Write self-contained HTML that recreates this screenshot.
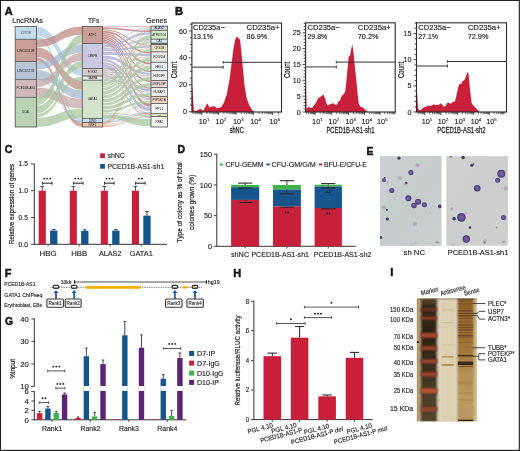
<!DOCTYPE html>
<html><head><meta charset="utf-8"><style>
html,body{margin:0;padding:0;background:#fff;}
svg{display:block;will-change:transform;font-family:"Liberation Sans",sans-serif;}
text{fill:#222;}
</style></head><body>
<svg xmlns="http://www.w3.org/2000/svg" width="520" height="451" viewBox="0 0 520 451">
<rect x="0" y="0" width="520" height="451" fill="#fff"/>
<text x="4.7" y="14.5" font-size="11" stroke="#000" stroke-width="0.45" font-weight="bold" fill="#000">A</text>
<text x="12.2" y="22.8" font-size="8.1" stroke="#2a2a2a" stroke-width="0.14" fill="#2a2a2a" textLength="30.8" lengthAdjust="spacingAndGlyphs">LncRNAs</text>
<text x="88" y="22.8" font-size="8.1" stroke="#2a2a2a" stroke-width="0.14" fill="#2a2a2a" textLength="11.2" lengthAdjust="spacingAndGlyphs">TFs</text>
<text x="145.9" y="22.8" font-size="8.1" stroke="#2a2a2a" stroke-width="0.14" fill="#2a2a2a" textLength="21.3" lengthAdjust="spacingAndGlyphs">Genes</text>
<path d="M36.5 26.5 C59.4 26.5 59.4 69 82.3 69 L82.3 75.9 C59.4 75.9 59.4 35.6 36.5 35.6Z" fill="#a9cde2" fill-opacity="0.72"/>
<path d="M36.5 36 C59.4 36 59.4 118.8 82.3 118.8 L82.3 122.3 C59.4 122.3 59.4 39.2 36.5 39.2Z" fill="#a9cde2" fill-opacity="0.72"/>
<path d="M36.5 39.6 C59.4 39.6 59.4 26.5 82.3 26.5 L82.3 34.7 C59.4 34.7 59.4 47 36.5 47Z" fill="#bd8580" fill-opacity="0.72"/>
<path d="M36.5 47.5 C59.4 47.5 59.4 80.5 82.3 80.5 L82.3 89.8 C59.4 89.8 59.4 57.2 36.5 57.2Z" fill="#bd8580" fill-opacity="0.72"/>
<path d="M36.5 57.6 C59.4 57.6 59.4 122.7 82.3 122.7 L82.3 126.8 C59.4 126.8 59.4 61.3 36.5 61.3Z" fill="#bd8580" fill-opacity="0.72"/>
<path d="M36.5 61.7 C59.4 61.7 59.4 44.2 82.3 44.2 L82.3 52.7 C59.4 52.7 59.4 69.5 36.5 69.5Z" fill="#a4b6cb" fill-opacity="0.72"/>
<path d="M36.5 69.9 C59.4 69.9 59.4 89.9 82.3 89.9 L82.3 98.5 C59.4 98.5 59.4 79.2 36.5 79.2Z" fill="#a4b6cb" fill-opacity="0.72"/>
<path d="M36.5 79.6 C59.4 79.6 59.4 52.9 82.3 52.9 L82.3 61 C59.4 61 59.4 87 36.5 87Z" fill="#c2a5a4" fill-opacity="0.72"/>
<path d="M36.5 87.4 C59.4 87.4 59.4 98.6 82.3 98.6 L82.3 108.6 C59.4 108.6 59.4 97.1 36.5 97.1Z" fill="#c2a5a4" fill-opacity="0.72"/>
<path d="M36.5 97.5 C59.4 97.5 59.4 34.8 82.3 34.8 L82.3 43.3 C59.4 43.3 59.4 105.3 36.5 105.3Z" fill="#a5c59b" fill-opacity="0.72"/>
<path d="M36.5 105.6 C59.4 105.6 59.4 61.2 82.3 61.2 L82.3 68.3 C59.4 68.3 59.4 113.6 36.5 113.6Z" fill="#a5c59b" fill-opacity="0.72"/>
<path d="M36.5 113.9 C59.4 113.9 59.4 76.6 82.3 76.6 L82.3 80.1 C59.4 80.1 59.4 117.4 36.5 117.4Z" fill="#a5c59b" fill-opacity="0.72"/>
<path d="M36.5 117.7 C59.4 117.7 59.4 108.7 82.3 108.7 L82.3 118 C59.4 118 59.4 126.8 36.5 126.8Z" fill="#a5c59b" fill-opacity="0.72"/>
<path d="M36.5 78.6 C59.4 78.6 59.4 121.6 82.3 121.6 L82.3 122.3 C59.4 122.3 59.4 79.2 36.5 79.2Z" fill="#8aa0b8" fill-opacity="0.8"/>
<path d="M102.6 26.47 C126.8 26.47 126.8 26.16 151 26.16 L151 26.79 C126.8 26.79 126.8 27.18 102.6 27.18Z" fill="#bb7672" fill-opacity="0.8"/>
<path d="M102.6 27.39 C126.8 27.39 126.8 30.44 151 30.44 L151 31.95 C126.8 31.95 126.8 28.89 102.6 28.89Z" fill="#bb7672" fill-opacity="0.8"/>
<path d="M102.6 29.15 C126.8 29.15 126.8 44.71 151 44.71 L151 45.83 C126.8 45.83 126.8 30.37 102.6 30.37Z" fill="#bb7672" fill-opacity="0.8"/>
<path d="M102.6 30.65 C126.8 30.65 126.8 51.95 151 51.95 L151 53.51 C126.8 53.51 126.8 32.43 102.6 32.43Z" fill="#bb7672" fill-opacity="0.8"/>
<path d="M102.6 32.73 C126.8 32.73 126.8 62.47 151 62.47 L151 64.25 C126.8 64.25 126.8 34.13 102.6 34.13Z" fill="#bb7672" fill-opacity="0.8"/>
<path d="M102.6 34.43 C126.8 34.43 126.8 70.75 151 70.75 L151 72.29 C126.8 72.29 126.8 36.1 102.6 36.1Z" fill="#bb7672" fill-opacity="0.8"/>
<path d="M102.6 36.37 C126.8 36.37 126.8 80.66 151 80.66 L151 82.35 C126.8 82.35 126.8 37.55 102.6 37.55Z" fill="#bb7672" fill-opacity="0.8"/>
<path d="M102.6 37.81 C126.8 37.81 126.8 87.63 151 87.63 L151 89.04 C126.8 89.04 126.8 39.33 102.6 39.33Z" fill="#bb7672" fill-opacity="0.8"/>
<path d="M102.6 39.59 C126.8 39.59 126.8 96.6 151 96.6 L151 97.59 C126.8 97.59 126.8 40.77 102.6 40.77Z" fill="#bb7672" fill-opacity="0.8"/>
<path d="M102.6 41.05 C126.8 41.05 126.8 103.77 151 103.77 L151 106.63 C126.8 106.63 126.8 42.75 102.6 42.75Z" fill="#bb7672" fill-opacity="0.8"/>
<path d="M102.6 42.96 C126.8 42.96 126.8 113.6 151 113.6 L151 114.1 C126.8 114.1 126.8 43.46 102.6 43.46Z" fill="#bb7672" fill-opacity="0.8"/>
<path d="M102.6 43.61 C126.8 43.61 126.8 26.93 151 26.93 L151 27.85 C126.8 27.85 126.8 44.81 102.6 44.81Z" fill="#aeaed6" fill-opacity="0.8"/>
<path d="M102.6 45.17 C126.8 45.17 126.8 32.3 151 32.3 L151 34.51 C126.8 34.51 126.8 47.7 102.6 47.7Z" fill="#aeaed6" fill-opacity="0.8"/>
<path d="M102.6 48.05 C126.8 48.05 126.8 39.31 151 39.31 L151 40.48 C126.8 40.48 126.8 49.19 102.6 49.19Z" fill="#aeaed6" fill-opacity="0.8"/>
<path d="M102.6 49.5 C126.8 49.5 126.8 46.09 151 46.09 L151 47.73 C126.8 47.73 126.8 51.55 102.6 51.55Z" fill="#aeaed6" fill-opacity="0.8"/>
<path d="M102.6 52.03 C126.8 52.03 126.8 53.88 151 53.88 L151 56.17 C126.8 56.17 126.8 55.02 102.6 55.02Z" fill="#aeaed6" fill-opacity="0.8"/>
<path d="M102.6 55.57 C126.8 55.57 126.8 72.66 151 72.66 L151 74.92 C126.8 74.92 126.8 58.39 102.6 58.39Z" fill="#aeaed6" fill-opacity="0.8"/>
<path d="M102.6 58.91 C126.8 58.91 126.8 89.37 151 89.37 L151 91.42 C126.8 91.42 126.8 61.47 102.6 61.47Z" fill="#aeaed6" fill-opacity="0.8"/>
<path d="M102.6 61.91 C126.8 61.91 126.8 97.83 151 97.83 L151 99.29 C126.8 99.29 126.8 63.9 102.6 63.9Z" fill="#aeaed6" fill-opacity="0.8"/>
<path d="M102.6 64.36 C126.8 64.36 126.8 107.3 151 107.3 L151 111.49 C126.8 111.49 126.8 67.24 102.6 67.24Z" fill="#aeaed6" fill-opacity="0.8"/>
<path d="M102.6 67.59 C126.8 67.59 126.8 114.15 151 114.15 L151 114.76 C126.8 114.76 126.8 68.42 102.6 68.42Z" fill="#aeaed6" fill-opacity="0.8"/>
<path d="M102.6 68.48 C126.8 68.48 126.8 27.85 151 27.85 L151 28.35 C126.8 28.35 126.8 68.98 102.6 68.98Z" fill="#c2aaaa" fill-opacity="0.8"/>
<path d="M102.6 69.02 C126.8 69.02 126.8 47.93 151 47.93 L151 48.43 C126.8 48.43 126.8 69.67 102.6 69.67Z" fill="#c2aaaa" fill-opacity="0.8"/>
<path d="M102.6 69.82 C126.8 69.82 126.8 56.45 151 56.45 L151 57.14 C126.8 57.14 126.8 70.77 102.6 70.77Z" fill="#c2aaaa" fill-opacity="0.8"/>
<path d="M102.6 70.93 C126.8 70.93 126.8 64.5 151 64.5 L151 65.28 C126.8 65.28 126.8 71.69 102.6 71.69Z" fill="#c2aaaa" fill-opacity="0.8"/>
<path d="M102.6 71.84 C126.8 71.84 126.8 75.19 151 75.19 L151 75.87 C126.8 75.87 126.8 72.74 102.6 72.74Z" fill="#c2aaaa" fill-opacity="0.8"/>
<path d="M102.6 72.91 C126.8 72.91 126.8 91.68 151 91.68 L151 92.29 C126.8 92.29 126.8 73.72 102.6 73.72Z" fill="#c2aaaa" fill-opacity="0.8"/>
<path d="M102.6 73.86 C126.8 73.86 126.8 99.44 151 99.44 L151 99.94 C126.8 99.94 126.8 74.49 102.6 74.49Z" fill="#c2aaaa" fill-opacity="0.8"/>
<path d="M102.6 74.46 C126.8 74.46 126.8 114.67 151 114.67 L151 115.17 C126.8 115.17 126.8 74.96 102.6 74.96Z" fill="#c2aaaa" fill-opacity="0.8"/>
<path d="M102.6 74.96 C126.8 74.96 126.8 116.64 151 116.64 L151 118.09 C126.8 118.09 126.8 75.91 102.6 75.91Z" fill="#c2aaaa" fill-opacity="0.8"/>
<path d="M102.6 76.01 C126.8 76.01 126.8 40.46 151 40.46 L151 40.96 C126.8 40.96 126.8 76.51 102.6 76.51Z" fill="#b4b4b4" fill-opacity="0.8"/>
<path d="M102.6 76.61 C126.8 76.61 126.8 75.91 151 75.91 L151 76.41 C126.8 76.41 126.8 77.68 102.6 77.68Z" fill="#b4b4b4" fill-opacity="0.8"/>
<path d="M102.6 77.87 C126.8 77.87 126.8 92.31 151 92.31 L151 92.81 C126.8 92.81 126.8 78.84 102.6 78.84Z" fill="#b4b4b4" fill-opacity="0.8"/>
<path d="M102.6 79 C126.8 79 126.8 99.85 151 99.85 L151 100.35 C126.8 100.35 126.8 79.76 102.6 79.76Z" fill="#b4b4b4" fill-opacity="0.8"/>
<path d="M102.6 79.76 C126.8 79.76 126.8 114.84 151 114.84 L151 115.34 C126.8 115.34 126.8 80.26 102.6 80.26Z" fill="#b4b4b4" fill-opacity="0.8"/>
<path d="M102.6 80.34 C126.8 80.34 126.8 28.39 151 28.39 L151 29.79 C126.8 29.79 126.8 81.85 102.6 81.85Z" fill="#accaa2" fill-opacity="0.8"/>
<path d="M102.6 82.3 C126.8 82.3 126.8 35.04 151 35.04 L151 38.41 C126.8 38.41 126.8 85.49 102.6 85.49Z" fill="#accaa2" fill-opacity="0.8"/>
<path d="M102.6 85.93 C126.8 85.93 126.8 40.99 151 40.99 L151 42.78 C126.8 42.78 126.8 87.37 102.6 87.37Z" fill="#accaa2" fill-opacity="0.8"/>
<path d="M102.6 87.75 C126.8 87.75 126.8 48.71 151 48.71 L151 51.21 C126.8 51.21 126.8 90.34 102.6 90.34Z" fill="#accaa2" fill-opacity="0.8"/>
<path d="M102.6 90.94 C126.8 90.94 126.8 57.54 151 57.54 L151 61.03 C126.8 61.03 126.8 94.71 102.6 94.71Z" fill="#accaa2" fill-opacity="0.8"/>
<path d="M102.6 95.35 C126.8 95.35 126.8 65.73 151 65.73 L151 69.71 C126.8 69.71 126.8 98.33 102.6 98.33Z" fill="#accaa2" fill-opacity="0.8"/>
<path d="M102.6 98.95 C126.8 98.95 126.8 76.72 151 76.72 L151 80.17 C126.8 80.17 126.8 102.51 102.6 102.51Z" fill="#accaa2" fill-opacity="0.8"/>
<path d="M102.6 103.09 C126.8 103.09 126.8 82.88 151 82.88 L151 86.66 C126.8 86.66 126.8 105.6 102.6 105.6Z" fill="#accaa2" fill-opacity="0.8"/>
<path d="M102.6 106.15 C126.8 106.15 126.8 93.06 151 93.06 L151 96.2 C126.8 96.2 126.8 109.38 102.6 109.38Z" fill="#accaa2" fill-opacity="0.8"/>
<path d="M102.6 109.92 C126.8 109.92 126.8 100.46 151 100.46 L151 102.69 C126.8 102.69 126.8 112.43 102.6 112.43Z" fill="#accaa2" fill-opacity="0.8"/>
<path d="M102.6 112.77 C126.8 112.77 126.8 115.24 151 115.24 L151 116.16 C126.8 116.16 126.8 113.81 102.6 113.81Z" fill="#accaa2" fill-opacity="0.8"/>
<path d="M102.6 114.27 C126.8 114.27 126.8 118.93 151 118.93 L151 126.3 C126.8 126.3 126.8 118.04 102.6 118.04Z" fill="#accaa2" fill-opacity="0.8"/>
<path d="M102.6 118.32 C126.8 118.32 126.8 29.76 151 29.76 L151 30.26 C126.8 30.26 126.8 118.82 102.6 118.82Z" fill="#93bcd8" fill-opacity="0.8"/>
<path d="M102.6 118.81 C126.8 118.81 126.8 61.34 151 61.34 L151 61.84 C126.8 61.84 126.8 119.54 102.6 119.54Z" fill="#93bcd8" fill-opacity="0.8"/>
<path d="M102.6 119.66 C126.8 119.66 126.8 70.1 151 70.1 L151 70.6 C126.8 70.6 126.8 120.23 102.6 120.23Z" fill="#93bcd8" fill-opacity="0.8"/>
<path d="M102.6 120.32 C126.8 120.32 126.8 87.01 151 87.01 L151 87.51 C126.8 87.51 126.8 120.82 102.6 120.82Z" fill="#93bcd8" fill-opacity="0.8"/>
<path d="M102.6 120.9 C126.8 120.9 126.8 102.79 151 102.79 L151 103.29 C126.8 103.29 126.8 121.4 102.6 121.4Z" fill="#93bcd8" fill-opacity="0.8"/>
<path d="M102.6 121.5 C126.8 121.5 126.8 111.95 151 111.95 L151 112.64 C126.8 112.64 126.8 122.2 102.6 122.2Z" fill="#93bcd8" fill-opacity="0.8"/>
<path d="M102.6 122.13 C126.8 122.13 126.8 116.06 151 116.06 L151 116.56 C126.8 116.56 126.8 122.63 102.6 122.63Z" fill="#93bcd8" fill-opacity="0.8"/>
<path d="M102.6 122.42 C126.8 122.42 126.8 29.95 151 29.95 L151 30.45 C126.8 30.45 126.8 122.92 102.6 122.92Z" fill="#d69a74" fill-opacity="0.8"/>
<path d="M102.6 122.9 C126.8 122.9 126.8 38.71 151 38.71 L151 39.21 C126.8 39.21 126.8 123.52 102.6 123.52Z" fill="#d69a74" fill-opacity="0.8"/>
<path d="M102.6 123.49 C126.8 123.49 126.8 42.82 151 42.82 L151 43.32 C126.8 43.32 126.8 123.99 102.6 123.99Z" fill="#d69a74" fill-opacity="0.8"/>
<path d="M102.6 123.95 C126.8 123.95 126.8 51.37 151 51.37 L151 51.87 C126.8 51.87 126.8 124.45 102.6 124.45Z" fill="#d69a74" fill-opacity="0.8"/>
<path d="M102.6 124.56 C126.8 124.56 126.8 61.8 151 61.8 L151 62.3 C126.8 62.3 126.8 125.29 102.6 125.29Z" fill="#d69a74" fill-opacity="0.8"/>
<path d="M102.6 125.4 C126.8 125.4 126.8 103.09 151 103.09 L151 103.59 C126.8 103.59 126.8 125.9 102.6 125.9Z" fill="#d69a74" fill-opacity="0.8"/>
<path d="M102.6 126 C126.8 126 126.8 112.78 151 112.78 L151 113.53 C126.8 113.53 126.8 126.7 102.6 126.7Z" fill="#d69a74" fill-opacity="0.8"/>
<path d="M102.6 126.63 C126.8 126.63 126.8 116.19 151 116.19 L151 116.69 C126.8 116.69 126.8 127.13 102.6 127.13Z" fill="#d69a74" fill-opacity="0.8"/>
<rect x="15.2" y="26.5" width="21.3" height="12.8" fill="#c3dcea"/>
<rect x="15.2" y="39.3" width="21.3" height="22.2" fill="#c99d98"/>
<rect x="15.2" y="61.5" width="21.3" height="17.9" fill="#b8c7d7"/>
<rect x="15.2" y="79.4" width="21.3" height="17.9" fill="#cfb9b8"/>
<rect x="15.2" y="97.3" width="21.3" height="29.7" fill="#bad2b2"/>
<rect x="15.2" y="26.5" width="21.3" height="100.5" fill="none" stroke="#555" stroke-width="0.85"/>
<line x1="15.2" y1="39.3" x2="36.5" y2="39.3" stroke="#555" stroke-width="0.85"/>
<line x1="15.2" y1="61.5" x2="36.5" y2="61.5" stroke="#555" stroke-width="0.85"/>
<line x1="15.2" y1="79.4" x2="36.5" y2="79.4" stroke="#555" stroke-width="0.85"/>
<line x1="15.2" y1="97.3" x2="36.5" y2="97.3" stroke="#555" stroke-width="0.85"/>
<text x="25.85" y="34.02" font-size="3.1" text-anchor="middle" fill="#5a5a5a" textLength="9.61" lengthAdjust="spacingAndGlyphs">CYTOR</text>
<text x="25.85" y="51.52" font-size="3.1" text-anchor="middle" fill="#5a5a5a" textLength="17.3" lengthAdjust="spacingAndGlyphs">LINC01128</text>
<text x="25.85" y="71.57" font-size="3.1" text-anchor="middle" fill="#5a5a5a" textLength="17.3" lengthAdjust="spacingAndGlyphs">LINC01133</text>
<text x="25.85" y="89.47" font-size="3.1" text-anchor="middle" fill="#5a5a5a" textLength="18.8" lengthAdjust="spacingAndGlyphs">PCED1B-AS1</text>
<text x="25.85" y="113.27" font-size="3.1" text-anchor="middle" fill="#5a5a5a" textLength="7.69" lengthAdjust="spacingAndGlyphs">UCA1</text>
<rect x="82.3" y="26.4" width="20.3" height="17.1" fill="#c99d98"/>
<rect x="82.3" y="43.5" width="20.3" height="25" fill="#c9c9e2"/>
<rect x="82.3" y="68.5" width="20.3" height="7.5" fill="#d9cccc"/>
<rect x="82.3" y="76" width="20.3" height="4.2" fill="#e9e9e9"/>
<rect x="82.3" y="80.2" width="20.3" height="38.2" fill="#d3e3cb"/>
<rect x="82.3" y="118.4" width="20.3" height="4.1" fill="#c8dcea"/>
<rect x="82.3" y="122.5" width="20.3" height="4.5" fill="#ecc4ac"/>
<rect x="82.3" y="26.4" width="20.3" height="100.6" fill="none" stroke="#555" stroke-width="0.85"/>
<line x1="82.3" y1="43.5" x2="102.6" y2="43.5" stroke="#555" stroke-width="0.85"/>
<line x1="82.3" y1="68.5" x2="102.6" y2="68.5" stroke="#555" stroke-width="0.85"/>
<line x1="82.3" y1="76" x2="102.6" y2="76" stroke="#555" stroke-width="0.85"/>
<line x1="82.3" y1="80.2" x2="102.6" y2="80.2" stroke="#555" stroke-width="0.85"/>
<line x1="82.3" y1="118.4" x2="102.6" y2="118.4" stroke="#555" stroke-width="0.85"/>
<line x1="82.3" y1="122.5" x2="102.6" y2="122.5" stroke="#555" stroke-width="0.85"/>
<text x="92.45" y="36.07" font-size="3.1" text-anchor="middle" fill="#5a5a5a" textLength="7.69" lengthAdjust="spacingAndGlyphs">ATF1</text>
<text x="92.45" y="57.12" font-size="3.1" text-anchor="middle" fill="#5a5a5a" textLength="9.61" lengthAdjust="spacingAndGlyphs">CEBPB</text>
<text x="92.45" y="73.37" font-size="3.1" text-anchor="middle" fill="#5a5a5a" textLength="9.61" lengthAdjust="spacingAndGlyphs">FOXK2</text>
<text x="92.45" y="79.22" font-size="3.1" text-anchor="middle" fill="#5a5a5a" textLength="9.61" lengthAdjust="spacingAndGlyphs">GABPA</text>
<text x="92.45" y="100.42" font-size="3.1" text-anchor="middle" fill="#5a5a5a" textLength="9.61" lengthAdjust="spacingAndGlyphs">GATA1</text>
<text x="92.45" y="121.56" font-size="3.07" text-anchor="middle" fill="#5a5a5a" textLength="7.63" lengthAdjust="spacingAndGlyphs">JUND</text>
<text x="92.45" y="125.87" font-size="3.1" text-anchor="middle" fill="#5a5a5a" textLength="7.69" lengthAdjust="spacingAndGlyphs">NRF1</text>
<rect x="151" y="26.1" width="16.6" height="4.2" fill="#ddd3ec"/>
<rect x="151" y="30.3" width="16.6" height="8.9" fill="#d2ebc9"/>
<rect x="151" y="39.2" width="16.6" height="4" fill="#d9e9f5"/>
<rect x="151" y="43.2" width="16.6" height="1.4" fill="#555"/>
<rect x="151" y="44.6" width="16.6" height="7.2" fill="#ebe3c4"/>
<rect x="151" y="51.8" width="16.6" height="10.5" fill="#ebebe7"/>
<rect x="151" y="62.3" width="16.6" height="8.3" fill="#e3f0f8"/>
<rect x="151" y="70.6" width="16.6" height="9.9" fill="#ebebe8"/>
<rect x="151" y="80.5" width="16.6" height="7" fill="#f2d6d8"/>
<rect x="151" y="87.5" width="16.6" height="9" fill="#ebebe8"/>
<rect x="151" y="96.5" width="16.6" height="7" fill="#f4d2c0"/>
<rect x="151" y="103.5" width="16.6" height="10.1" fill="#f2f2ee"/>
<rect x="151" y="113.6" width="16.6" height="2.9" fill="#f4f2cc"/>
<rect x="151" y="116.5" width="16.6" height="10.5" fill="#f2f2ee"/>
<rect x="151" y="26.1" width="16.6" height="100.9" fill="none" stroke="#555" stroke-width="0.85"/>
<line x1="151" y1="30.3" x2="167.6" y2="30.3" stroke="#555" stroke-width="0.85"/>
<line x1="151" y1="39.2" x2="167.6" y2="39.2" stroke="#555" stroke-width="0.85"/>
<line x1="151" y1="43.2" x2="167.6" y2="43.2" stroke="#555" stroke-width="0.85"/>
<line x1="151" y1="44.6" x2="167.6" y2="44.6" stroke="#555" stroke-width="0.85"/>
<line x1="151" y1="51.8" x2="167.6" y2="51.8" stroke="#555" stroke-width="0.85"/>
<line x1="151" y1="62.3" x2="167.6" y2="62.3" stroke="#555" stroke-width="0.85"/>
<line x1="151" y1="70.6" x2="167.6" y2="70.6" stroke="#555" stroke-width="0.85"/>
<line x1="151" y1="80.5" x2="167.6" y2="80.5" stroke="#555" stroke-width="0.85"/>
<line x1="151" y1="87.5" x2="167.6" y2="87.5" stroke="#555" stroke-width="0.85"/>
<line x1="151" y1="96.5" x2="167.6" y2="96.5" stroke="#555" stroke-width="0.85"/>
<line x1="151" y1="103.5" x2="167.6" y2="103.5" stroke="#555" stroke-width="0.85"/>
<line x1="151" y1="113.6" x2="167.6" y2="113.6" stroke="#555" stroke-width="0.85"/>
<line x1="151" y1="116.5" x2="167.6" y2="116.5" stroke="#555" stroke-width="0.85"/>
<text x="159.3" y="29.32" font-size="3.1" text-anchor="middle" fill="#5a5a5a" textLength="9.61" lengthAdjust="spacingAndGlyphs">ALAS2</text>
<text x="159.3" y="35.87" font-size="3.1" text-anchor="middle" fill="#5a5a5a" textLength="14.1" lengthAdjust="spacingAndGlyphs">ATP6V1G1</text>
<text x="159.3" y="42.28" font-size="3" text-anchor="middle" fill="#5a5a5a" textLength="5.58" lengthAdjust="spacingAndGlyphs">CA1</text>
<text x="159.3" y="49.32" font-size="3.1" text-anchor="middle" fill="#5a5a5a" textLength="9.61" lengthAdjust="spacingAndGlyphs">CKS1B</text>
<text x="159.3" y="58.17" font-size="3.1" text-anchor="middle" fill="#5a5a5a" textLength="11.53" lengthAdjust="spacingAndGlyphs">FCGR2A</text>
<text x="159.3" y="67.57" font-size="3.1" text-anchor="middle" fill="#5a5a5a" textLength="7.69" lengthAdjust="spacingAndGlyphs">HBG1</text>
<text x="159.3" y="76.67" font-size="3.1" text-anchor="middle" fill="#5a5a5a" textLength="11.53" lengthAdjust="spacingAndGlyphs">HNRNPF</text>
<text x="159.3" y="85.12" font-size="3.1" text-anchor="middle" fill="#5a5a5a" textLength="13.45" lengthAdjust="spacingAndGlyphs">MRPL1BP</text>
<text x="159.3" y="93.12" font-size="3.1" text-anchor="middle" fill="#5a5a5a" textLength="11.53" lengthAdjust="spacingAndGlyphs">NUSAP1</text>
<text x="159.3" y="101.12" font-size="3.1" text-anchor="middle" fill="#5a5a5a" textLength="13.45" lengthAdjust="spacingAndGlyphs">PIP5K1B</text>
<text x="159.3" y="109.67" font-size="3.1" text-anchor="middle" fill="#5a5a5a" textLength="7.69" lengthAdjust="spacingAndGlyphs">PPL1</text>
<text x="159.3" y="115.83" font-size="2.18" text-anchor="middle" fill="#5a5a5a" textLength="4.05" lengthAdjust="spacingAndGlyphs">SMC</text>
<text x="159.3" y="122.87" font-size="3.1" text-anchor="middle" fill="#5a5a5a" textLength="7.69" lengthAdjust="spacingAndGlyphs">RPA2</text>
<text x="175" y="14.5" font-size="11" stroke="#000" stroke-width="0.45" font-weight="bold" fill="#000">B</text>
<polygon points="192,112 192,84.5 192.8,92 193.4,104 194,110.8 196,111 198.5,109.8 200.5,108.8 202,110 203.4,110.4 205,107.4 207.4,103.2 209.4,107.4 211.7,106.4 214.2,106.2 216.4,107.7 218.3,108.3 221.1,107 224,102.6 226.8,94.2 229.6,79 231.5,64 233.4,48.9 235.3,39.4 236.8,36.6 238.7,38.5 240,39.4 241.3,50.8 242.8,67.7 244.7,86.6 246.6,97.9 249.4,105.5 252.3,110.2 255,112" fill="#c8203a"/>
<rect x="191.9" y="23" width="89.6" height="89" fill="none" stroke="#2a2a2a" stroke-width="1.1"/>
<line x1="188.9" y1="111.8" x2="191.9" y2="111.8" stroke="#333" stroke-width="0.9"/>
<line x1="189.9" y1="105.06" x2="191.9" y2="105.06" stroke="#333" stroke-width="0.9"/>
<line x1="189.9" y1="98.33" x2="191.9" y2="98.33" stroke="#333" stroke-width="0.9"/>
<line x1="189.9" y1="91.59" x2="191.9" y2="91.59" stroke="#333" stroke-width="0.9"/>
<line x1="188.9" y1="84.85" x2="191.9" y2="84.85" stroke="#333" stroke-width="0.9"/>
<line x1="189.9" y1="78.11" x2="191.9" y2="78.11" stroke="#333" stroke-width="0.9"/>
<line x1="189.9" y1="71.38" x2="191.9" y2="71.38" stroke="#333" stroke-width="0.9"/>
<line x1="189.9" y1="64.64" x2="191.9" y2="64.64" stroke="#333" stroke-width="0.9"/>
<line x1="188.9" y1="57.9" x2="191.9" y2="57.9" stroke="#333" stroke-width="0.9"/>
<line x1="189.9" y1="51.16" x2="191.9" y2="51.16" stroke="#333" stroke-width="0.9"/>
<line x1="189.9" y1="44.42" x2="191.9" y2="44.42" stroke="#333" stroke-width="0.9"/>
<line x1="189.9" y1="37.69" x2="191.9" y2="37.69" stroke="#333" stroke-width="0.9"/>
<line x1="188.9" y1="30.95" x2="191.9" y2="30.95" stroke="#333" stroke-width="0.9"/>
<line x1="189.9" y1="24.21" x2="191.9" y2="24.21" stroke="#333" stroke-width="0.9"/>
<text x="187" y="114.35" font-size="7.2" stroke="#2a2a2a" stroke-width="0.14" text-anchor="end" fill="#2a2a2a">0</text>
<text x="187" y="87.4" font-size="7.2" stroke="#2a2a2a" stroke-width="0.14" text-anchor="end" fill="#2a2a2a">20</text>
<text x="187" y="60.45" font-size="7.2" stroke="#2a2a2a" stroke-width="0.14" text-anchor="end" fill="#2a2a2a">40</text>
<text x="187" y="33.5" font-size="7.2" stroke="#2a2a2a" stroke-width="0.14" text-anchor="end" fill="#2a2a2a">60</text>
<line x1="201.9" y1="112" x2="201.9" y2="115" stroke="#333" stroke-width="0.8"/>
<line x1="193.12" y1="112" x2="193.12" y2="114.2" stroke="#2a2a2a" stroke-width="0.7"/>
<line x1="195.21" y1="112" x2="195.21" y2="114.2" stroke="#2a2a2a" stroke-width="0.7"/>
<line x1="196.84" y1="112" x2="196.84" y2="114.2" stroke="#2a2a2a" stroke-width="0.7"/>
<line x1="198.17" y1="112" x2="198.17" y2="114.2" stroke="#2a2a2a" stroke-width="0.7"/>
<line x1="199.3" y1="112" x2="199.3" y2="114.2" stroke="#2a2a2a" stroke-width="0.7"/>
<line x1="200.27" y1="112" x2="200.27" y2="114.2" stroke="#2a2a2a" stroke-width="0.7"/>
<line x1="201.13" y1="112" x2="201.13" y2="114.2" stroke="#2a2a2a" stroke-width="0.7"/>
<text x="198.8" y="123.5" font-size="7.3" fill="#2a2a2a" stroke="#2a2a2a" stroke-width="0.14">10<tspan font-size="4.3" dy="-2.4">1</tspan></text>
<line x1="218.7" y1="112" x2="218.7" y2="115" stroke="#333" stroke-width="0.8"/>
<line x1="206.96" y1="112" x2="206.96" y2="114.2" stroke="#2a2a2a" stroke-width="0.7"/>
<line x1="209.92" y1="112" x2="209.92" y2="114.2" stroke="#2a2a2a" stroke-width="0.7"/>
<line x1="212.01" y1="112" x2="212.01" y2="114.2" stroke="#2a2a2a" stroke-width="0.7"/>
<line x1="213.64" y1="112" x2="213.64" y2="114.2" stroke="#2a2a2a" stroke-width="0.7"/>
<line x1="214.97" y1="112" x2="214.97" y2="114.2" stroke="#2a2a2a" stroke-width="0.7"/>
<line x1="216.1" y1="112" x2="216.1" y2="114.2" stroke="#2a2a2a" stroke-width="0.7"/>
<line x1="217.07" y1="112" x2="217.07" y2="114.2" stroke="#2a2a2a" stroke-width="0.7"/>
<line x1="217.93" y1="112" x2="217.93" y2="114.2" stroke="#2a2a2a" stroke-width="0.7"/>
<text x="215.6" y="123.5" font-size="7.3" fill="#2a2a2a" stroke="#2a2a2a" stroke-width="0.14">10<tspan font-size="4.3" dy="-2.4">2</tspan></text>
<line x1="236.1" y1="112" x2="236.1" y2="115" stroke="#333" stroke-width="0.8"/>
<line x1="223.94" y1="112" x2="223.94" y2="114.2" stroke="#2a2a2a" stroke-width="0.7"/>
<line x1="227" y1="112" x2="227" y2="114.2" stroke="#2a2a2a" stroke-width="0.7"/>
<line x1="229.18" y1="112" x2="229.18" y2="114.2" stroke="#2a2a2a" stroke-width="0.7"/>
<line x1="230.86" y1="112" x2="230.86" y2="114.2" stroke="#2a2a2a" stroke-width="0.7"/>
<line x1="232.24" y1="112" x2="232.24" y2="114.2" stroke="#2a2a2a" stroke-width="0.7"/>
<line x1="233.4" y1="112" x2="233.4" y2="114.2" stroke="#2a2a2a" stroke-width="0.7"/>
<line x1="234.41" y1="112" x2="234.41" y2="114.2" stroke="#2a2a2a" stroke-width="0.7"/>
<line x1="235.3" y1="112" x2="235.3" y2="114.2" stroke="#2a2a2a" stroke-width="0.7"/>
<text x="233" y="123.5" font-size="7.3" fill="#2a2a2a" stroke="#2a2a2a" stroke-width="0.14">10<tspan font-size="4.3" dy="-2.4">3</tspan></text>
<line x1="253.4" y1="112" x2="253.4" y2="115" stroke="#333" stroke-width="0.8"/>
<line x1="241.31" y1="112" x2="241.31" y2="114.2" stroke="#2a2a2a" stroke-width="0.7"/>
<line x1="244.35" y1="112" x2="244.35" y2="114.2" stroke="#2a2a2a" stroke-width="0.7"/>
<line x1="246.52" y1="112" x2="246.52" y2="114.2" stroke="#2a2a2a" stroke-width="0.7"/>
<line x1="248.19" y1="112" x2="248.19" y2="114.2" stroke="#2a2a2a" stroke-width="0.7"/>
<line x1="249.56" y1="112" x2="249.56" y2="114.2" stroke="#2a2a2a" stroke-width="0.7"/>
<line x1="250.72" y1="112" x2="250.72" y2="114.2" stroke="#2a2a2a" stroke-width="0.7"/>
<line x1="251.72" y1="112" x2="251.72" y2="114.2" stroke="#2a2a2a" stroke-width="0.7"/>
<line x1="252.61" y1="112" x2="252.61" y2="114.2" stroke="#2a2a2a" stroke-width="0.7"/>
<text x="250.3" y="123.5" font-size="7.3" fill="#2a2a2a" stroke="#2a2a2a" stroke-width="0.14">10<tspan font-size="4.3" dy="-2.4">4</tspan></text>
<line x1="272.6" y1="112" x2="272.6" y2="115" stroke="#333" stroke-width="0.8"/>
<line x1="259.18" y1="112" x2="259.18" y2="114.2" stroke="#2a2a2a" stroke-width="0.7"/>
<line x1="262.56" y1="112" x2="262.56" y2="114.2" stroke="#2a2a2a" stroke-width="0.7"/>
<line x1="264.96" y1="112" x2="264.96" y2="114.2" stroke="#2a2a2a" stroke-width="0.7"/>
<line x1="266.82" y1="112" x2="266.82" y2="114.2" stroke="#2a2a2a" stroke-width="0.7"/>
<line x1="268.34" y1="112" x2="268.34" y2="114.2" stroke="#2a2a2a" stroke-width="0.7"/>
<line x1="269.63" y1="112" x2="269.63" y2="114.2" stroke="#2a2a2a" stroke-width="0.7"/>
<line x1="270.74" y1="112" x2="270.74" y2="114.2" stroke="#2a2a2a" stroke-width="0.7"/>
<line x1="271.72" y1="112" x2="271.72" y2="114.2" stroke="#2a2a2a" stroke-width="0.7"/>
<text x="269.5" y="123.5" font-size="7.3" fill="#2a2a2a" stroke="#2a2a2a" stroke-width="0.14">10<tspan font-size="4.3" dy="-2.4">5</tspan></text>
<line x1="278.38" y1="112" x2="278.38" y2="114.2" stroke="#2a2a2a" stroke-width="0.7"/>
<line x1="191.9" y1="67.1" x2="223.2" y2="67.1" stroke="#555" stroke-width="1.2"/>
<line x1="223.2" y1="65.5" x2="223.2" y2="68.7" stroke="#444" stroke-width="1"/>
<line x1="223.2" y1="62.3" x2="281.5" y2="62.3" stroke="#333" stroke-width="1"/>
<line x1="223.2" y1="61" x2="223.2" y2="63.6" stroke="#333" stroke-width="1"/>
<text x="193" y="29.9" font-size="7.1" stroke="#2a2a2a" stroke-width="0.14" fill="#2a2a2a" textLength="31.8" lengthAdjust="spacingAndGlyphs">CD235a−</text>
<text x="193" y="38.9" font-size="7.1" stroke="#2a2a2a" stroke-width="0.14" fill="#2a2a2a" textLength="19.9" lengthAdjust="spacingAndGlyphs">13.1%</text>
<text x="246.6" y="29.9" font-size="7.1" stroke="#2a2a2a" stroke-width="0.14" fill="#2a2a2a" textLength="33" lengthAdjust="spacingAndGlyphs">CD235a+</text>
<text x="246.6" y="38.9" font-size="7.1" stroke="#2a2a2a" stroke-width="0.14" fill="#2a2a2a" textLength="20.7" lengthAdjust="spacingAndGlyphs">86.9%</text>
<text x="236.7" y="133.3" font-size="9.2" text-anchor="middle" fill="#2a2a2a" textLength="14.1" lengthAdjust="spacingAndGlyphs" stroke="#2a2a2a" stroke-width="0.3">shNC</text>
<text x="176.9" y="70" font-size="9.4" text-anchor="middle" fill="#2a2a2a" textLength="16.3" lengthAdjust="spacingAndGlyphs" transform="rotate(-90 176.9 70)" stroke="#2a2a2a" stroke-width="0.25">Count</text>
<polygon points="306,112 306,82 306.6,109.4 308.3,106.8 310.1,107.7 311.9,108 313.6,105.9 316.3,102.3 318.1,97.9 319.8,97.4 321.6,96.1 323.4,94.4 325.2,98.8 326.4,103.2 327.8,105.5 330.5,104.1 333.1,103.2 334.9,104.5 336.7,105 338.4,101.5 340.2,100.2 341.6,96.1 343.4,94.4 345.2,91.7 346.4,81.1 347.7,66.9 348.7,56.3 350,55.9 351.2,49.2 352.3,44.2 353.5,52.7 354.7,65.1 356.2,79.3 357.6,93.5 358.8,104.1 360.6,106.8 363.3,107.7 365,109.4 367.2,111.6 368,112" fill="#c8203a"/>
<rect x="305.6" y="22.8" width="89.6" height="89.2" fill="none" stroke="#2a2a2a" stroke-width="1.1"/>
<line x1="302.6" y1="112" x2="305.6" y2="112" stroke="#333" stroke-width="0.9"/>
<line x1="303.6" y1="108.83" x2="305.6" y2="108.83" stroke="#333" stroke-width="0.9"/>
<line x1="303.6" y1="105.66" x2="305.6" y2="105.66" stroke="#333" stroke-width="0.9"/>
<line x1="303.6" y1="102.5" x2="305.6" y2="102.5" stroke="#333" stroke-width="0.9"/>
<line x1="303.6" y1="99.33" x2="305.6" y2="99.33" stroke="#333" stroke-width="0.9"/>
<line x1="302.6" y1="96.16" x2="305.6" y2="96.16" stroke="#333" stroke-width="0.9"/>
<line x1="303.6" y1="92.99" x2="305.6" y2="92.99" stroke="#333" stroke-width="0.9"/>
<line x1="303.6" y1="89.82" x2="305.6" y2="89.82" stroke="#333" stroke-width="0.9"/>
<line x1="303.6" y1="86.66" x2="305.6" y2="86.66" stroke="#333" stroke-width="0.9"/>
<line x1="303.6" y1="83.49" x2="305.6" y2="83.49" stroke="#333" stroke-width="0.9"/>
<line x1="302.6" y1="80.32" x2="305.6" y2="80.32" stroke="#333" stroke-width="0.9"/>
<line x1="303.6" y1="77.15" x2="305.6" y2="77.15" stroke="#333" stroke-width="0.9"/>
<line x1="303.6" y1="73.98" x2="305.6" y2="73.98" stroke="#333" stroke-width="0.9"/>
<line x1="303.6" y1="70.82" x2="305.6" y2="70.82" stroke="#333" stroke-width="0.9"/>
<line x1="303.6" y1="67.65" x2="305.6" y2="67.65" stroke="#333" stroke-width="0.9"/>
<line x1="302.6" y1="64.48" x2="305.6" y2="64.48" stroke="#333" stroke-width="0.9"/>
<line x1="303.6" y1="61.31" x2="305.6" y2="61.31" stroke="#333" stroke-width="0.9"/>
<line x1="303.6" y1="58.14" x2="305.6" y2="58.14" stroke="#333" stroke-width="0.9"/>
<line x1="303.6" y1="54.98" x2="305.6" y2="54.98" stroke="#333" stroke-width="0.9"/>
<line x1="303.6" y1="51.81" x2="305.6" y2="51.81" stroke="#333" stroke-width="0.9"/>
<line x1="302.6" y1="48.64" x2="305.6" y2="48.64" stroke="#333" stroke-width="0.9"/>
<line x1="303.6" y1="45.47" x2="305.6" y2="45.47" stroke="#333" stroke-width="0.9"/>
<line x1="303.6" y1="42.3" x2="305.6" y2="42.3" stroke="#333" stroke-width="0.9"/>
<line x1="303.6" y1="39.14" x2="305.6" y2="39.14" stroke="#333" stroke-width="0.9"/>
<line x1="303.6" y1="35.97" x2="305.6" y2="35.97" stroke="#333" stroke-width="0.9"/>
<line x1="302.6" y1="32.8" x2="305.6" y2="32.8" stroke="#333" stroke-width="0.9"/>
<line x1="303.6" y1="29.63" x2="305.6" y2="29.63" stroke="#333" stroke-width="0.9"/>
<line x1="303.6" y1="26.46" x2="305.6" y2="26.46" stroke="#333" stroke-width="0.9"/>
<line x1="303.6" y1="23.3" x2="305.6" y2="23.3" stroke="#333" stroke-width="0.9"/>
<text x="300.7" y="114.55" font-size="7.2" stroke="#2a2a2a" stroke-width="0.14" text-anchor="end" fill="#2a2a2a">0</text>
<text x="300.7" y="98.71" font-size="7.2" stroke="#2a2a2a" stroke-width="0.14" text-anchor="end" fill="#2a2a2a">5</text>
<text x="300.7" y="82.87" font-size="7.2" stroke="#2a2a2a" stroke-width="0.14" text-anchor="end" fill="#2a2a2a">10</text>
<text x="300.7" y="67.03" font-size="7.2" stroke="#2a2a2a" stroke-width="0.14" text-anchor="end" fill="#2a2a2a">15</text>
<text x="300.7" y="51.19" font-size="7.2" stroke="#2a2a2a" stroke-width="0.14" text-anchor="end" fill="#2a2a2a">20</text>
<text x="300.7" y="35.35" font-size="7.2" stroke="#2a2a2a" stroke-width="0.14" text-anchor="end" fill="#2a2a2a">25</text>
<line x1="315.2" y1="112" x2="315.2" y2="115" stroke="#333" stroke-width="0.8"/>
<line x1="306.57" y1="112" x2="306.57" y2="114.2" stroke="#2a2a2a" stroke-width="0.7"/>
<line x1="308.63" y1="112" x2="308.63" y2="114.2" stroke="#2a2a2a" stroke-width="0.7"/>
<line x1="310.23" y1="112" x2="310.23" y2="114.2" stroke="#2a2a2a" stroke-width="0.7"/>
<line x1="311.54" y1="112" x2="311.54" y2="114.2" stroke="#2a2a2a" stroke-width="0.7"/>
<line x1="312.64" y1="112" x2="312.64" y2="114.2" stroke="#2a2a2a" stroke-width="0.7"/>
<line x1="313.6" y1="112" x2="313.6" y2="114.2" stroke="#2a2a2a" stroke-width="0.7"/>
<line x1="314.45" y1="112" x2="314.45" y2="114.2" stroke="#2a2a2a" stroke-width="0.7"/>
<text x="312.1" y="123.5" font-size="7.3" fill="#2a2a2a" stroke="#2a2a2a" stroke-width="0.14">10<tspan font-size="4.3" dy="-2.4">1</tspan></text>
<line x1="331.7" y1="112" x2="331.7" y2="115" stroke="#333" stroke-width="0.8"/>
<line x1="320.17" y1="112" x2="320.17" y2="114.2" stroke="#2a2a2a" stroke-width="0.7"/>
<line x1="323.07" y1="112" x2="323.07" y2="114.2" stroke="#2a2a2a" stroke-width="0.7"/>
<line x1="325.13" y1="112" x2="325.13" y2="114.2" stroke="#2a2a2a" stroke-width="0.7"/>
<line x1="326.73" y1="112" x2="326.73" y2="114.2" stroke="#2a2a2a" stroke-width="0.7"/>
<line x1="328.04" y1="112" x2="328.04" y2="114.2" stroke="#2a2a2a" stroke-width="0.7"/>
<line x1="329.14" y1="112" x2="329.14" y2="114.2" stroke="#2a2a2a" stroke-width="0.7"/>
<line x1="330.1" y1="112" x2="330.1" y2="114.2" stroke="#2a2a2a" stroke-width="0.7"/>
<line x1="330.95" y1="112" x2="330.95" y2="114.2" stroke="#2a2a2a" stroke-width="0.7"/>
<text x="328.6" y="123.5" font-size="7.3" fill="#2a2a2a" stroke="#2a2a2a" stroke-width="0.14">10<tspan font-size="4.3" dy="-2.4">2</tspan></text>
<line x1="348.5" y1="112" x2="348.5" y2="115" stroke="#333" stroke-width="0.8"/>
<line x1="336.76" y1="112" x2="336.76" y2="114.2" stroke="#2a2a2a" stroke-width="0.7"/>
<line x1="339.72" y1="112" x2="339.72" y2="114.2" stroke="#2a2a2a" stroke-width="0.7"/>
<line x1="341.81" y1="112" x2="341.81" y2="114.2" stroke="#2a2a2a" stroke-width="0.7"/>
<line x1="343.44" y1="112" x2="343.44" y2="114.2" stroke="#2a2a2a" stroke-width="0.7"/>
<line x1="344.77" y1="112" x2="344.77" y2="114.2" stroke="#2a2a2a" stroke-width="0.7"/>
<line x1="345.9" y1="112" x2="345.9" y2="114.2" stroke="#2a2a2a" stroke-width="0.7"/>
<line x1="346.87" y1="112" x2="346.87" y2="114.2" stroke="#2a2a2a" stroke-width="0.7"/>
<line x1="347.73" y1="112" x2="347.73" y2="114.2" stroke="#2a2a2a" stroke-width="0.7"/>
<text x="345.4" y="123.5" font-size="7.3" fill="#2a2a2a" stroke="#2a2a2a" stroke-width="0.14">10<tspan font-size="4.3" dy="-2.4">3</tspan></text>
<line x1="364.6" y1="112" x2="364.6" y2="115" stroke="#333" stroke-width="0.8"/>
<line x1="353.35" y1="112" x2="353.35" y2="114.2" stroke="#2a2a2a" stroke-width="0.7"/>
<line x1="356.18" y1="112" x2="356.18" y2="114.2" stroke="#2a2a2a" stroke-width="0.7"/>
<line x1="358.19" y1="112" x2="358.19" y2="114.2" stroke="#2a2a2a" stroke-width="0.7"/>
<line x1="359.75" y1="112" x2="359.75" y2="114.2" stroke="#2a2a2a" stroke-width="0.7"/>
<line x1="361.03" y1="112" x2="361.03" y2="114.2" stroke="#2a2a2a" stroke-width="0.7"/>
<line x1="362.11" y1="112" x2="362.11" y2="114.2" stroke="#2a2a2a" stroke-width="0.7"/>
<line x1="363.04" y1="112" x2="363.04" y2="114.2" stroke="#2a2a2a" stroke-width="0.7"/>
<line x1="363.86" y1="112" x2="363.86" y2="114.2" stroke="#2a2a2a" stroke-width="0.7"/>
<text x="361.5" y="123.5" font-size="7.3" fill="#2a2a2a" stroke="#2a2a2a" stroke-width="0.14">10<tspan font-size="4.3" dy="-2.4">4</tspan></text>
<line x1="380.1" y1="112" x2="380.1" y2="115" stroke="#333" stroke-width="0.8"/>
<line x1="369.27" y1="112" x2="369.27" y2="114.2" stroke="#2a2a2a" stroke-width="0.7"/>
<line x1="372" y1="112" x2="372" y2="114.2" stroke="#2a2a2a" stroke-width="0.7"/>
<line x1="373.93" y1="112" x2="373.93" y2="114.2" stroke="#2a2a2a" stroke-width="0.7"/>
<line x1="375.43" y1="112" x2="375.43" y2="114.2" stroke="#2a2a2a" stroke-width="0.7"/>
<line x1="376.66" y1="112" x2="376.66" y2="114.2" stroke="#2a2a2a" stroke-width="0.7"/>
<line x1="377.7" y1="112" x2="377.7" y2="114.2" stroke="#2a2a2a" stroke-width="0.7"/>
<line x1="378.6" y1="112" x2="378.6" y2="114.2" stroke="#2a2a2a" stroke-width="0.7"/>
<line x1="379.39" y1="112" x2="379.39" y2="114.2" stroke="#2a2a2a" stroke-width="0.7"/>
<text x="377" y="123.5" font-size="7.3" fill="#2a2a2a" stroke="#2a2a2a" stroke-width="0.14">10<tspan font-size="4.3" dy="-2.4">5</tspan></text>
<line x1="384.77" y1="112" x2="384.77" y2="114.2" stroke="#2a2a2a" stroke-width="0.7"/>
<line x1="387.5" y1="112" x2="387.5" y2="114.2" stroke="#2a2a2a" stroke-width="0.7"/>
<line x1="389.43" y1="112" x2="389.43" y2="114.2" stroke="#2a2a2a" stroke-width="0.7"/>
<line x1="390.93" y1="112" x2="390.93" y2="114.2" stroke="#2a2a2a" stroke-width="0.7"/>
<line x1="392.16" y1="112" x2="392.16" y2="114.2" stroke="#2a2a2a" stroke-width="0.7"/>
<line x1="393.2" y1="112" x2="393.2" y2="114.2" stroke="#2a2a2a" stroke-width="0.7"/>
<line x1="394.1" y1="112" x2="394.1" y2="114.2" stroke="#2a2a2a" stroke-width="0.7"/>
<line x1="394.89" y1="112" x2="394.89" y2="114.2" stroke="#2a2a2a" stroke-width="0.7"/>
<line x1="305.6" y1="66.9" x2="336.3" y2="66.9" stroke="#555" stroke-width="1.2"/>
<line x1="336.3" y1="65.3" x2="336.3" y2="68.5" stroke="#444" stroke-width="1"/>
<line x1="336.3" y1="62.1" x2="395.2" y2="62.1" stroke="#333" stroke-width="1"/>
<line x1="336.3" y1="60.8" x2="336.3" y2="63.4" stroke="#333" stroke-width="1"/>
<text x="307.4" y="29.9" font-size="7.1" stroke="#2a2a2a" stroke-width="0.14" fill="#2a2a2a" textLength="32.4" lengthAdjust="spacingAndGlyphs">CD235a−</text>
<text x="307.4" y="38.9" font-size="7.1" stroke="#2a2a2a" stroke-width="0.14" fill="#2a2a2a" textLength="19.9" lengthAdjust="spacingAndGlyphs">29.8%</text>
<text x="357.8" y="29.9" font-size="7.1" stroke="#2a2a2a" stroke-width="0.14" fill="#2a2a2a" textLength="33" lengthAdjust="spacingAndGlyphs">CD235a+</text>
<text x="357.8" y="38.9" font-size="7.1" stroke="#2a2a2a" stroke-width="0.14" fill="#2a2a2a" textLength="20.7" lengthAdjust="spacingAndGlyphs">70.2%</text>
<text x="350.4" y="133.3" font-size="9.2" text-anchor="middle" fill="#2a2a2a" textLength="48" lengthAdjust="spacingAndGlyphs" stroke="#2a2a2a" stroke-width="0.3">PCED1B-AS1-sh1</text>
<text x="290.5" y="69.9" font-size="9.4" text-anchor="middle" fill="#2a2a2a" textLength="16.3" lengthAdjust="spacingAndGlyphs" transform="rotate(-90 290.5 69.9)" stroke="#2a2a2a" stroke-width="0.25">Count</text>
<polygon points="417,112 417,91.3 418,108.2 419.4,110.5 421.4,109.5 423.4,107.5 426.1,106.8 428.8,105.5 430.8,106.1 433.5,104.5 436.2,105.1 438.9,104.8 440.9,103.2 442.3,104.8 443.6,106.8 445.6,106.1 447.6,102.4 449.7,103.2 451,103.7 453,101.8 455,101.4 456.4,95.4 457.7,89.3 459.1,84.3 461.1,83.9 462.5,81.2 464.5,79.9 465.8,76.5 467.6,72.2 468.5,73.2 469.9,88.6 471.6,102.8 473.2,105.5 475.9,108.2 478.6,110.9 480,112" fill="#c8203a"/>
<rect x="416.5" y="22.8" width="90" height="89.2" fill="none" stroke="#2a2a2a" stroke-width="1.1"/>
<line x1="413.5" y1="112" x2="416.5" y2="112" stroke="#333" stroke-width="0.9"/>
<line x1="414.5" y1="106.77" x2="416.5" y2="106.77" stroke="#333" stroke-width="0.9"/>
<line x1="414.5" y1="101.53" x2="416.5" y2="101.53" stroke="#333" stroke-width="0.9"/>
<line x1="414.5" y1="96.3" x2="416.5" y2="96.3" stroke="#333" stroke-width="0.9"/>
<line x1="414.5" y1="91.07" x2="416.5" y2="91.07" stroke="#333" stroke-width="0.9"/>
<line x1="413.5" y1="85.84" x2="416.5" y2="85.84" stroke="#333" stroke-width="0.9"/>
<line x1="414.5" y1="80.6" x2="416.5" y2="80.6" stroke="#333" stroke-width="0.9"/>
<line x1="414.5" y1="75.37" x2="416.5" y2="75.37" stroke="#333" stroke-width="0.9"/>
<line x1="414.5" y1="70.14" x2="416.5" y2="70.14" stroke="#333" stroke-width="0.9"/>
<line x1="414.5" y1="64.9" x2="416.5" y2="64.9" stroke="#333" stroke-width="0.9"/>
<line x1="413.5" y1="59.67" x2="416.5" y2="59.67" stroke="#333" stroke-width="0.9"/>
<line x1="414.5" y1="54.44" x2="416.5" y2="54.44" stroke="#333" stroke-width="0.9"/>
<line x1="414.5" y1="49.2" x2="416.5" y2="49.2" stroke="#333" stroke-width="0.9"/>
<line x1="414.5" y1="43.97" x2="416.5" y2="43.97" stroke="#333" stroke-width="0.9"/>
<line x1="414.5" y1="38.74" x2="416.5" y2="38.74" stroke="#333" stroke-width="0.9"/>
<line x1="413.5" y1="33.51" x2="416.5" y2="33.51" stroke="#333" stroke-width="0.9"/>
<line x1="414.5" y1="28.27" x2="416.5" y2="28.27" stroke="#333" stroke-width="0.9"/>
<line x1="414.5" y1="23.04" x2="416.5" y2="23.04" stroke="#333" stroke-width="0.9"/>
<text x="411.6" y="114.55" font-size="7.2" stroke="#2a2a2a" stroke-width="0.14" text-anchor="end" fill="#2a2a2a">0</text>
<text x="411.6" y="88.39" font-size="7.2" stroke="#2a2a2a" stroke-width="0.14" text-anchor="end" fill="#2a2a2a">5</text>
<text x="411.6" y="62.22" font-size="7.2" stroke="#2a2a2a" stroke-width="0.14" text-anchor="end" fill="#2a2a2a">10</text>
<text x="411.6" y="36.06" font-size="7.2" stroke="#2a2a2a" stroke-width="0.14" text-anchor="end" fill="#2a2a2a">15</text>
<line x1="424.8" y1="112" x2="424.8" y2="115" stroke="#333" stroke-width="0.8"/>
<line x1="418.39" y1="112" x2="418.39" y2="114.2" stroke="#2a2a2a" stroke-width="0.7"/>
<line x1="419.95" y1="112" x2="419.95" y2="114.2" stroke="#2a2a2a" stroke-width="0.7"/>
<line x1="421.23" y1="112" x2="421.23" y2="114.2" stroke="#2a2a2a" stroke-width="0.7"/>
<line x1="422.31" y1="112" x2="422.31" y2="114.2" stroke="#2a2a2a" stroke-width="0.7"/>
<line x1="423.24" y1="112" x2="423.24" y2="114.2" stroke="#2a2a2a" stroke-width="0.7"/>
<line x1="424.06" y1="112" x2="424.06" y2="114.2" stroke="#2a2a2a" stroke-width="0.7"/>
<text x="421.7" y="123.5" font-size="7.3" fill="#2a2a2a" stroke="#2a2a2a" stroke-width="0.14">10<tspan font-size="4.3" dy="-2.4">1</tspan></text>
<line x1="440.9" y1="112" x2="440.9" y2="115" stroke="#333" stroke-width="0.8"/>
<line x1="429.65" y1="112" x2="429.65" y2="114.2" stroke="#2a2a2a" stroke-width="0.7"/>
<line x1="432.48" y1="112" x2="432.48" y2="114.2" stroke="#2a2a2a" stroke-width="0.7"/>
<line x1="434.49" y1="112" x2="434.49" y2="114.2" stroke="#2a2a2a" stroke-width="0.7"/>
<line x1="436.05" y1="112" x2="436.05" y2="114.2" stroke="#2a2a2a" stroke-width="0.7"/>
<line x1="437.33" y1="112" x2="437.33" y2="114.2" stroke="#2a2a2a" stroke-width="0.7"/>
<line x1="438.41" y1="112" x2="438.41" y2="114.2" stroke="#2a2a2a" stroke-width="0.7"/>
<line x1="439.34" y1="112" x2="439.34" y2="114.2" stroke="#2a2a2a" stroke-width="0.7"/>
<line x1="440.16" y1="112" x2="440.16" y2="114.2" stroke="#2a2a2a" stroke-width="0.7"/>
<text x="437.8" y="123.5" font-size="7.3" fill="#2a2a2a" stroke="#2a2a2a" stroke-width="0.14">10<tspan font-size="4.3" dy="-2.4">2</tspan></text>
<line x1="457.7" y1="112" x2="457.7" y2="115" stroke="#333" stroke-width="0.8"/>
<line x1="445.96" y1="112" x2="445.96" y2="114.2" stroke="#2a2a2a" stroke-width="0.7"/>
<line x1="448.92" y1="112" x2="448.92" y2="114.2" stroke="#2a2a2a" stroke-width="0.7"/>
<line x1="451.01" y1="112" x2="451.01" y2="114.2" stroke="#2a2a2a" stroke-width="0.7"/>
<line x1="452.64" y1="112" x2="452.64" y2="114.2" stroke="#2a2a2a" stroke-width="0.7"/>
<line x1="453.97" y1="112" x2="453.97" y2="114.2" stroke="#2a2a2a" stroke-width="0.7"/>
<line x1="455.1" y1="112" x2="455.1" y2="114.2" stroke="#2a2a2a" stroke-width="0.7"/>
<line x1="456.07" y1="112" x2="456.07" y2="114.2" stroke="#2a2a2a" stroke-width="0.7"/>
<line x1="456.93" y1="112" x2="456.93" y2="114.2" stroke="#2a2a2a" stroke-width="0.7"/>
<text x="454.6" y="123.5" font-size="7.3" fill="#2a2a2a" stroke="#2a2a2a" stroke-width="0.14">10<tspan font-size="4.3" dy="-2.4">3</tspan></text>
<line x1="473.8" y1="112" x2="473.8" y2="115" stroke="#333" stroke-width="0.8"/>
<line x1="462.55" y1="112" x2="462.55" y2="114.2" stroke="#2a2a2a" stroke-width="0.7"/>
<line x1="465.38" y1="112" x2="465.38" y2="114.2" stroke="#2a2a2a" stroke-width="0.7"/>
<line x1="467.39" y1="112" x2="467.39" y2="114.2" stroke="#2a2a2a" stroke-width="0.7"/>
<line x1="468.95" y1="112" x2="468.95" y2="114.2" stroke="#2a2a2a" stroke-width="0.7"/>
<line x1="470.23" y1="112" x2="470.23" y2="114.2" stroke="#2a2a2a" stroke-width="0.7"/>
<line x1="471.31" y1="112" x2="471.31" y2="114.2" stroke="#2a2a2a" stroke-width="0.7"/>
<line x1="472.24" y1="112" x2="472.24" y2="114.2" stroke="#2a2a2a" stroke-width="0.7"/>
<line x1="473.06" y1="112" x2="473.06" y2="114.2" stroke="#2a2a2a" stroke-width="0.7"/>
<text x="470.7" y="123.5" font-size="7.3" fill="#2a2a2a" stroke="#2a2a2a" stroke-width="0.14">10<tspan font-size="4.3" dy="-2.4">4</tspan></text>
<line x1="489.3" y1="112" x2="489.3" y2="115" stroke="#333" stroke-width="0.8"/>
<line x1="478.47" y1="112" x2="478.47" y2="114.2" stroke="#2a2a2a" stroke-width="0.7"/>
<line x1="481.2" y1="112" x2="481.2" y2="114.2" stroke="#2a2a2a" stroke-width="0.7"/>
<line x1="483.13" y1="112" x2="483.13" y2="114.2" stroke="#2a2a2a" stroke-width="0.7"/>
<line x1="484.63" y1="112" x2="484.63" y2="114.2" stroke="#2a2a2a" stroke-width="0.7"/>
<line x1="485.86" y1="112" x2="485.86" y2="114.2" stroke="#2a2a2a" stroke-width="0.7"/>
<line x1="486.9" y1="112" x2="486.9" y2="114.2" stroke="#2a2a2a" stroke-width="0.7"/>
<line x1="487.8" y1="112" x2="487.8" y2="114.2" stroke="#2a2a2a" stroke-width="0.7"/>
<line x1="488.59" y1="112" x2="488.59" y2="114.2" stroke="#2a2a2a" stroke-width="0.7"/>
<text x="486.2" y="123.5" font-size="7.3" fill="#2a2a2a" stroke="#2a2a2a" stroke-width="0.14">10<tspan font-size="4.3" dy="-2.4">5</tspan></text>
<line x1="493.97" y1="112" x2="493.97" y2="114.2" stroke="#2a2a2a" stroke-width="0.7"/>
<line x1="496.7" y1="112" x2="496.7" y2="114.2" stroke="#2a2a2a" stroke-width="0.7"/>
<line x1="498.63" y1="112" x2="498.63" y2="114.2" stroke="#2a2a2a" stroke-width="0.7"/>
<line x1="500.13" y1="112" x2="500.13" y2="114.2" stroke="#2a2a2a" stroke-width="0.7"/>
<line x1="501.36" y1="112" x2="501.36" y2="114.2" stroke="#2a2a2a" stroke-width="0.7"/>
<line x1="502.4" y1="112" x2="502.4" y2="114.2" stroke="#2a2a2a" stroke-width="0.7"/>
<line x1="503.3" y1="112" x2="503.3" y2="114.2" stroke="#2a2a2a" stroke-width="0.7"/>
<line x1="504.09" y1="112" x2="504.09" y2="114.2" stroke="#2a2a2a" stroke-width="0.7"/>
<line x1="416.5" y1="66" x2="447.4" y2="66" stroke="#555" stroke-width="1.2"/>
<line x1="447.4" y1="64.4" x2="447.4" y2="67.6" stroke="#444" stroke-width="1"/>
<line x1="447.4" y1="61.5" x2="506.5" y2="61.5" stroke="#333" stroke-width="1"/>
<line x1="447.4" y1="60.2" x2="447.4" y2="62.8" stroke="#333" stroke-width="1"/>
<text x="418.2" y="29.9" font-size="7.1" stroke="#2a2a2a" stroke-width="0.14" fill="#2a2a2a" textLength="32.4" lengthAdjust="spacingAndGlyphs">CD235a−</text>
<text x="418.2" y="38.9" font-size="7.1" stroke="#2a2a2a" stroke-width="0.14" fill="#2a2a2a" textLength="19.9" lengthAdjust="spacingAndGlyphs">27.1%</text>
<text x="467.7" y="29.9" font-size="7.1" stroke="#2a2a2a" stroke-width="0.14" fill="#2a2a2a" textLength="33" lengthAdjust="spacingAndGlyphs">CD235a+</text>
<text x="467.7" y="38.9" font-size="7.1" stroke="#2a2a2a" stroke-width="0.14" fill="#2a2a2a" textLength="20.7" lengthAdjust="spacingAndGlyphs">72.9%</text>
<text x="461.5" y="133.3" font-size="9.2" text-anchor="middle" fill="#2a2a2a" textLength="48.3" lengthAdjust="spacingAndGlyphs" stroke="#2a2a2a" stroke-width="0.3">PCED1B-AS1-sh2</text>
<text x="404" y="69.9" font-size="9.4" text-anchor="middle" fill="#2a2a2a" textLength="16.3" lengthAdjust="spacingAndGlyphs" transform="rotate(-90 404 69.9)" stroke="#2a2a2a" stroke-width="0.25">Count</text>
<text x="4.8" y="153.3" font-size="10.4" stroke="#000" stroke-width="0.45" font-weight="bold" fill="#000">C</text>
<line x1="34.3" y1="163.8" x2="34.3" y2="244.8" stroke="#333" stroke-width="1"/>
<line x1="31" y1="163.9" x2="34.3" y2="163.9" stroke="#333" stroke-width="0.9"/>
<text x="27.9" y="166.3" font-size="6.9" stroke="#2a2a2a" stroke-width="0.14" text-anchor="end" fill="#2a2a2a" textLength="9.3" lengthAdjust="spacingAndGlyphs">1.5</text>
<line x1="31" y1="190.7" x2="34.3" y2="190.7" stroke="#333" stroke-width="0.9"/>
<text x="27.9" y="193.1" font-size="6.9" stroke="#2a2a2a" stroke-width="0.14" text-anchor="end" fill="#2a2a2a" textLength="9.3" lengthAdjust="spacingAndGlyphs">1.0</text>
<line x1="31" y1="217.5" x2="34.3" y2="217.5" stroke="#333" stroke-width="0.9"/>
<text x="27.9" y="219.9" font-size="6.9" stroke="#2a2a2a" stroke-width="0.14" text-anchor="end" fill="#2a2a2a" textLength="9.3" lengthAdjust="spacingAndGlyphs">0.5</text>
<line x1="31" y1="244.3" x2="34.3" y2="244.3" stroke="#333" stroke-width="0.9"/>
<text x="27.9" y="246.7" font-size="6.9" stroke="#2a2a2a" stroke-width="0.14" text-anchor="end" fill="#2a2a2a" textLength="9.3" lengthAdjust="spacingAndGlyphs">0.0</text>
<line x1="34.3" y1="244.3" x2="167" y2="244.3" stroke="#333" stroke-width="1"/>
<text x="13.9" y="204.1" font-size="7.6" text-anchor="middle" fill="#2a2a2a" textLength="80.3" lengthAdjust="spacingAndGlyphs" transform="rotate(-90 13.9 204.1)" stroke="#2a2a2a" stroke-width="0.22">Relative expression of genes</text>
<line x1="42.25" y1="190.7" x2="42.25" y2="186.41" stroke="#333" stroke-width="0.9"/>
<line x1="40.35" y1="186.41" x2="44.15" y2="186.41" stroke="#333" stroke-width="0.9"/>
<line x1="53.75" y1="230.63" x2="53.75" y2="229.56" stroke="#333" stroke-width="0.9"/>
<line x1="51.85" y1="229.56" x2="55.65" y2="229.56" stroke="#333" stroke-width="0.9"/>
<rect x="38.7" y="190.7" width="7.1" height="53.6" fill="#c8203a"/>
<rect x="50.1" y="230.63" width="7.3" height="13.67" fill="#15558c"/>
<line x1="48.1" y1="244.3" x2="48.1" y2="246.6" stroke="#333" stroke-width="0.8"/>
<text x="48.1" y="256.1" font-size="7" stroke="#2a2a2a" stroke-width="0.14" text-anchor="middle" fill="#2a2a2a" textLength="17.1" lengthAdjust="spacingAndGlyphs">HBG</text>
<line x1="42.4" y1="183.2" x2="52" y2="183.2" stroke="#333" stroke-width="1.1"/>
<line x1="42.4" y1="181.7" x2="42.4" y2="184.7" stroke="#333" stroke-width="1"/>
<line x1="52" y1="181.7" x2="52" y2="184.7" stroke="#333" stroke-width="1"/>
<circle cx="44.2" cy="178.6" r="0.95" fill="#222"/>
<circle cx="47.2" cy="178.6" r="0.95" fill="#222"/>
<circle cx="50.2" cy="178.6" r="0.95" fill="#222"/>
<line x1="73.3" y1="190.7" x2="73.3" y2="186.41" stroke="#333" stroke-width="0.9"/>
<line x1="71.4" y1="186.41" x2="75.2" y2="186.41" stroke="#333" stroke-width="0.9"/>
<line x1="84.8" y1="230.9" x2="84.8" y2="229.83" stroke="#333" stroke-width="0.9"/>
<line x1="82.9" y1="229.83" x2="86.7" y2="229.83" stroke="#333" stroke-width="0.9"/>
<rect x="69.75" y="190.7" width="7.1" height="53.6" fill="#c8203a"/>
<rect x="81.15" y="230.9" width="7.3" height="13.4" fill="#15558c"/>
<line x1="79.15" y1="244.3" x2="79.15" y2="246.6" stroke="#333" stroke-width="0.8"/>
<text x="79.15" y="256.1" font-size="7" stroke="#2a2a2a" stroke-width="0.14" text-anchor="middle" fill="#2a2a2a" textLength="15.9" lengthAdjust="spacingAndGlyphs">HBB</text>
<line x1="73.45" y1="183.2" x2="83.05" y2="183.2" stroke="#333" stroke-width="1.1"/>
<line x1="73.45" y1="181.7" x2="73.45" y2="184.7" stroke="#333" stroke-width="1"/>
<line x1="83.05" y1="181.7" x2="83.05" y2="184.7" stroke="#333" stroke-width="1"/>
<circle cx="75.25" cy="178.6" r="0.95" fill="#222"/>
<circle cx="78.25" cy="178.6" r="0.95" fill="#222"/>
<circle cx="81.25" cy="178.6" r="0.95" fill="#222"/>
<line x1="104.35" y1="190.7" x2="104.35" y2="186.41" stroke="#333" stroke-width="0.9"/>
<line x1="102.45" y1="186.41" x2="106.25" y2="186.41" stroke="#333" stroke-width="0.9"/>
<line x1="115.85" y1="230.63" x2="115.85" y2="229.56" stroke="#333" stroke-width="0.9"/>
<line x1="113.95" y1="229.56" x2="117.75" y2="229.56" stroke="#333" stroke-width="0.9"/>
<rect x="100.8" y="190.7" width="7.1" height="53.6" fill="#c8203a"/>
<rect x="112.2" y="230.63" width="7.3" height="13.67" fill="#15558c"/>
<line x1="110.2" y1="244.3" x2="110.2" y2="246.6" stroke="#333" stroke-width="0.8"/>
<text x="110.2" y="256.1" font-size="7" stroke="#2a2a2a" stroke-width="0.14" text-anchor="middle" fill="#2a2a2a" textLength="22.5" lengthAdjust="spacingAndGlyphs">ALAS2</text>
<line x1="104.5" y1="183.2" x2="114.1" y2="183.2" stroke="#333" stroke-width="1.1"/>
<line x1="104.5" y1="181.7" x2="104.5" y2="184.7" stroke="#333" stroke-width="1"/>
<line x1="114.1" y1="181.7" x2="114.1" y2="184.7" stroke="#333" stroke-width="1"/>
<circle cx="106.3" cy="178.6" r="0.95" fill="#222"/>
<circle cx="109.3" cy="178.6" r="0.95" fill="#222"/>
<circle cx="112.3" cy="178.6" r="0.95" fill="#222"/>
<line x1="135.45" y1="190.7" x2="135.45" y2="186.41" stroke="#333" stroke-width="0.9"/>
<line x1="133.55" y1="186.41" x2="137.35" y2="186.41" stroke="#333" stroke-width="0.9"/>
<line x1="146.95" y1="215.62" x2="146.95" y2="211.6" stroke="#333" stroke-width="0.9"/>
<line x1="145.05" y1="211.6" x2="148.85" y2="211.6" stroke="#333" stroke-width="0.9"/>
<rect x="131.9" y="190.7" width="7.1" height="53.6" fill="#c8203a"/>
<rect x="143.3" y="215.62" width="7.3" height="28.68" fill="#15558c"/>
<line x1="141.3" y1="244.3" x2="141.3" y2="246.6" stroke="#333" stroke-width="0.8"/>
<text x="141.3" y="256.1" font-size="7" stroke="#2a2a2a" stroke-width="0.14" text-anchor="middle" fill="#2a2a2a" textLength="23" lengthAdjust="spacingAndGlyphs">GATA1</text>
<line x1="135.6" y1="183.2" x2="145.2" y2="183.2" stroke="#333" stroke-width="1.1"/>
<line x1="135.6" y1="181.7" x2="135.6" y2="184.7" stroke="#333" stroke-width="1"/>
<line x1="145.2" y1="181.7" x2="145.2" y2="184.7" stroke="#333" stroke-width="1"/>
<circle cx="138.9" cy="178.6" r="0.95" fill="#222"/>
<circle cx="141.9" cy="178.6" r="0.95" fill="#222"/>
<rect x="100.2" y="153.3" width="4.7" height="4.7" fill="#c8203a"/>
<rect x="100.2" y="164" width="4.7" height="4.7" fill="#15558c"/>
<text x="107.4" y="158.3" font-size="7.4" stroke="#2a2a2a" stroke-width="0.14" fill="#2a2a2a" textLength="17.5" lengthAdjust="spacingAndGlyphs">shNC</text>
<text x="107.4" y="168.9" font-size="7.4" stroke="#2a2a2a" stroke-width="0.14" fill="#2a2a2a" textLength="56.9" lengthAdjust="spacingAndGlyphs">PCED1B-AS1-sh1</text>
<text x="177.6" y="153" font-size="10.4" stroke="#000" stroke-width="0.45" font-weight="bold" fill="#000">D</text>
<line x1="216.8" y1="153.8" x2="216.8" y2="246.8" stroke="#333" stroke-width="1"/>
<line x1="213.8" y1="246.3" x2="216.8" y2="246.3" stroke="#333" stroke-width="0.9"/>
<text x="212" y="248.9" font-size="7.3" stroke="#2a2a2a" stroke-width="0.14" text-anchor="end" fill="#2a2a2a">0</text>
<line x1="213.8" y1="215.6" x2="216.8" y2="215.6" stroke="#333" stroke-width="0.9"/>
<text x="212" y="218.2" font-size="7.3" stroke="#2a2a2a" stroke-width="0.14" text-anchor="end" fill="#2a2a2a">50</text>
<line x1="213.8" y1="184.9" x2="216.8" y2="184.9" stroke="#333" stroke-width="0.9"/>
<text x="212" y="187.5" font-size="7.3" stroke="#2a2a2a" stroke-width="0.14" text-anchor="end" fill="#2a2a2a">100</text>
<line x1="213.8" y1="154.2" x2="216.8" y2="154.2" stroke="#333" stroke-width="0.9"/>
<text x="212" y="156.8" font-size="7.3" stroke="#2a2a2a" stroke-width="0.14" text-anchor="end" fill="#2a2a2a">150</text>
<line x1="216.8" y1="246.3" x2="355.8" y2="246.3" stroke="#333" stroke-width="1"/>
<text x="181.7" y="202.3" font-size="7.5" text-anchor="middle" fill="#2a2a2a" textLength="80.2" lengthAdjust="spacingAndGlyphs" transform="rotate(-90 181.7 202.3)" stroke="#2a2a2a" stroke-width="0.22">Type of colony as % of total</text>
<text x="194.2" y="202.3" font-size="7.5" text-anchor="middle" fill="#2a2a2a" textLength="55.2" lengthAdjust="spacingAndGlyphs" transform="rotate(-90 194.2 202.3)" stroke="#2a2a2a" stroke-width="0.22">colonies grown (%)</text>
<rect x="231.1" y="184.9" width="28.1" height="2.3" fill="#3cb44a"/>
<rect x="231.1" y="187.2" width="28.1" height="12.7" fill="#15558c"/>
<rect x="231.1" y="199.9" width="28.1" height="46.4" fill="#c8203a"/>
<line x1="238.05" y1="183.1" x2="252.25" y2="183.1" stroke="#2a2a2a" stroke-width="1.1"/>
<line x1="245.15" y1="183.1" x2="245.15" y2="184.9" stroke="#2a2a2a" stroke-width="0.9"/>
<line x1="238.05" y1="188.1" x2="252.25" y2="188.1" stroke="#2a2a2a" stroke-width="1.1"/>
<line x1="245.15" y1="188.1" x2="245.15" y2="187.2" stroke="#2a2a2a" stroke-width="0.9"/>
<line x1="238.05" y1="202.5" x2="252.25" y2="202.5" stroke="#2a2a2a" stroke-width="1.1"/>
<line x1="245.15" y1="202.5" x2="245.15" y2="199.9" stroke="#2a2a2a" stroke-width="0.9"/>
<line x1="245.15" y1="246.3" x2="245.15" y2="248.5" stroke="#333" stroke-width="0.8"/>
<rect x="273" y="185" width="27.9" height="4.6" fill="#3cb44a"/>
<rect x="273" y="189.6" width="27.9" height="16.9" fill="#15558c"/>
<rect x="273" y="206.5" width="27.9" height="39.8" fill="#c8203a"/>
<line x1="279.85" y1="180.7" x2="294.05" y2="180.7" stroke="#2a2a2a" stroke-width="1.1"/>
<line x1="286.95" y1="180.7" x2="286.95" y2="185" stroke="#2a2a2a" stroke-width="0.9"/>
<line x1="279.85" y1="193.9" x2="294.05" y2="193.9" stroke="#2a2a2a" stroke-width="1.1"/>
<line x1="286.95" y1="193.9" x2="286.95" y2="189.6" stroke="#2a2a2a" stroke-width="0.9"/>
<line x1="279.85" y1="207.2" x2="294.05" y2="207.2" stroke="#2a2a2a" stroke-width="1.1"/>
<line x1="286.95" y1="207.2" x2="286.95" y2="206.5" stroke="#2a2a2a" stroke-width="0.9"/>
<circle cx="285.7" cy="212.4" r="0.85" fill="#222"/>
<circle cx="288.2" cy="212.4" r="0.85" fill="#222"/>
<line x1="286.95" y1="246.3" x2="286.95" y2="248.5" stroke="#333" stroke-width="0.8"/>
<rect x="314.6" y="184.7" width="27.3" height="1.8" fill="#3cb44a"/>
<rect x="314.6" y="186.5" width="27.3" height="21.5" fill="#15558c"/>
<rect x="314.6" y="208" width="27.3" height="38.3" fill="#c8203a"/>
<line x1="321.15" y1="183.6" x2="335.35" y2="183.6" stroke="#2a2a2a" stroke-width="1.1"/>
<line x1="328.25" y1="183.6" x2="328.25" y2="184.7" stroke="#2a2a2a" stroke-width="0.9"/>
<line x1="321.15" y1="187.9" x2="335.35" y2="187.9" stroke="#2a2a2a" stroke-width="1.1"/>
<line x1="328.25" y1="187.9" x2="328.25" y2="186.5" stroke="#2a2a2a" stroke-width="0.9"/>
<line x1="321.15" y1="208.9" x2="335.35" y2="208.9" stroke="#2a2a2a" stroke-width="1.1"/>
<line x1="328.25" y1="208.9" x2="328.25" y2="208" stroke="#2a2a2a" stroke-width="0.9"/>
<circle cx="327" cy="192.2" r="0.85" fill="#222"/>
<circle cx="329.5" cy="192.2" r="0.85" fill="#222"/>
<circle cx="327" cy="213.4" r="0.85" fill="#222"/>
<circle cx="329.5" cy="213.4" r="0.85" fill="#222"/>
<line x1="328.25" y1="246.3" x2="328.25" y2="248.5" stroke="#333" stroke-width="0.8"/>
<text x="230.9" y="257.3" font-size="7" stroke="#2a2a2a" stroke-width="0.14" fill="#2a2a2a" textLength="18.3" lengthAdjust="spacingAndGlyphs">shNC</text>
<text x="251.4" y="257.3" font-size="7" stroke="#2a2a2a" stroke-width="0.14" fill="#2a2a2a" textLength="57.6" lengthAdjust="spacingAndGlyphs">PCED1B-AS1-sh1</text>
<text x="313.8" y="257.3" font-size="7" stroke="#2a2a2a" stroke-width="0.14" fill="#2a2a2a" textLength="57.7" lengthAdjust="spacingAndGlyphs">PCED1B-AS1-sh2</text>
<rect x="219.7" y="163.5" width="3.4" height="1.9" fill="#3cb44a"/>
<text x="225.5" y="167" font-size="7" stroke="#2a2a2a" stroke-width="0.14" fill="#2a2a2a" textLength="38" lengthAdjust="spacingAndGlyphs">CFU-GEMM</text>
<rect x="266.4" y="163.5" width="3.4" height="1.9" fill="#15558c"/>
<text x="271.5" y="167" font-size="7" stroke="#2a2a2a" stroke-width="0.14" fill="#2a2a2a" textLength="44.3" lengthAdjust="spacingAndGlyphs">CFU-GM/G/M</text>
<rect x="318.8" y="163.5" width="3.4" height="1.9" fill="#c8203a"/>
<text x="323.9" y="167" font-size="7" stroke="#2a2a2a" stroke-width="0.14" fill="#2a2a2a" textLength="43" lengthAdjust="spacingAndGlyphs">BFU-E/CFU-E</text>
<text x="366.5" y="155" font-size="10.4" stroke="#000" stroke-width="0.45" font-weight="bold" fill="#000">E</text>
<defs>
<radialGradient id="cellP" cx="50%" cy="50%" r="50%"><stop offset="0" stop-color="#7e6aa8"/><stop offset="0.6" stop-color="#624f92"/><stop offset="1" stop-color="#443272"/></radialGradient>
<radialGradient id="cellD" cx="50%" cy="50%" r="50%"><stop offset="0" stop-color="#5a3f80"/><stop offset="1" stop-color="#3a2a60"/></radialGradient>
<radialGradient id="cellK" cx="50%" cy="50%" r="50%"><stop offset="0" stop-color="#bca4ba"/><stop offset="0.7" stop-color="#b094ae"/><stop offset="1" stop-color="#a08098" stop-opacity="0.5"/></radialGradient>
<filter id="bl4" x="-20%" y="-20%" width="140%" height="140%"><feGaussianBlur stdDeviation="0.35"/></filter>
<linearGradient id="mic1" x1="0" y1="0" x2="1" y2="1"><stop offset="0" stop-color="#cbd0d1"/><stop offset="0.5" stop-color="#c6cccd"/><stop offset="1" stop-color="#c9cecf"/></linearGradient>
<linearGradient id="mic2" x1="0" y1="0" x2="1" y2="1"><stop offset="0" stop-color="#d0d2cf"/><stop offset="0.5" stop-color="#cbcfcd"/><stop offset="1" stop-color="#ced0cd"/></linearGradient>
<clipPath id="cm1"><rect x="380" y="156.1" width="61.6" height="89.8"/></clipPath>
<clipPath id="cm2"><rect x="446.2" y="156.1" width="61.7" height="89.6"/></clipPath>
</defs>
<rect x="380" y="156.1" width="61.6" height="89.8" fill="url(#mic1)"/>
<rect x="446.2" y="156.1" width="61.7" height="89.6" fill="url(#mic2)"/>
<g clip-path="url(#cm1)" filter="url(#bl4)">
<circle cx="399" cy="158.1" r="1.7" fill="url(#cellD)" opacity="1"/>
<circle cx="417.4" cy="165.5" r="2" fill="url(#cellK)" opacity="0.8"/>
<circle cx="410.9" cy="172.6" r="2.5" fill="url(#cellP)" opacity="1"/>
<circle cx="399.9" cy="178" r="2" fill="url(#cellK)" opacity="0.7"/>
<circle cx="384" cy="180.3" r="2" fill="url(#cellP)" opacity="1"/>
<circle cx="384.8" cy="177.8" r="0.8" fill="url(#cellD)" opacity="1"/>
<circle cx="387.8" cy="182.3" r="1" fill="url(#cellK)" opacity="0.6"/>
<circle cx="406.2" cy="183" r="1.3" fill="url(#cellD)" opacity="1"/>
<circle cx="404.8" cy="184" r="1.2" fill="url(#cellK)" opacity="0.6"/>
<circle cx="391.8" cy="190.4" r="2.5" fill="url(#cellP)" opacity="1"/>
<circle cx="408.4" cy="198.2" r="3" fill="url(#cellP)" opacity="1"/>
<circle cx="418.1" cy="201.7" r="3" fill="url(#cellP)" opacity="1"/>
<circle cx="414" cy="205.5" r="2.7" fill="url(#cellP)" opacity="1"/>
<circle cx="424.4" cy="204.7" r="2.5" fill="url(#cellP)" opacity="1"/>
<circle cx="439.8" cy="206.4" r="1.8" fill="url(#cellD)" opacity="1"/>
<circle cx="383.7" cy="207.8" r="2" fill="url(#cellK)" opacity="0.7"/>
<circle cx="386.8" cy="209.8" r="1" fill="url(#cellD)" opacity="1"/>
<circle cx="387.4" cy="219" r="1.6" fill="url(#cellD)" opacity="1"/>
<circle cx="415" cy="224" r="2.2" fill="url(#cellK)" opacity="0.6"/>
<circle cx="380.7" cy="237.4" r="1.5" fill="url(#cellD)" opacity="1"/>
<circle cx="415.4" cy="242.8" r="1.5" fill="url(#cellK)" opacity="0.5"/>
<circle cx="412" cy="244.5" r="1.5" fill="url(#cellK)" opacity="0.4"/>
<circle cx="392.5" cy="187.5" r="0.6" fill="url(#cellK)" opacity="0.5"/>
<circle cx="426" cy="212" r="0.8" fill="url(#cellK)" opacity="0.5"/>
<circle cx="430.5" cy="213" r="0.7" fill="url(#cellK)" opacity="0.4"/>
</g>
<g clip-path="url(#cm2)" filter="url(#bl4)">
<circle cx="450.8" cy="156.5" r="1.1" fill="url(#cellP)" opacity="1"/>
<circle cx="463.1" cy="157.5" r="1.7" fill="url(#cellD)" opacity="1"/>
<circle cx="471.7" cy="165.2" r="1.5" fill="url(#cellD)" opacity="1"/>
<circle cx="473.2" cy="164.3" r="1.1" fill="url(#cellP)" opacity="1"/>
<circle cx="501.3" cy="173.8" r="4" fill="url(#cellP)" opacity="1"/>
<circle cx="497.7" cy="180.3" r="2.5" fill="url(#cellP)" opacity="1"/>
<circle cx="477.2" cy="188.2" r="3.3" fill="url(#cellP)" opacity="1"/>
<circle cx="505.7" cy="188.7" r="2" fill="url(#cellK)" opacity="0.8"/>
<circle cx="502" cy="188.2" r="0.9" fill="url(#cellK)" opacity="0.6"/>
<circle cx="451.8" cy="208.7" r="1.5" fill="url(#cellK)" opacity="0.9"/>
<circle cx="461.4" cy="217.4" r="4.3" fill="url(#cellP)" opacity="1"/>
<circle cx="454.1" cy="218.8" r="1.8" fill="url(#cellD)" opacity="1"/>
<circle cx="465.7" cy="213" r="1.3" fill="url(#cellK)" opacity="0.5"/>
<circle cx="503.5" cy="217.4" r="2.5" fill="url(#cellP)" opacity="1"/>
<circle cx="470" cy="227.5" r="1.2" fill="url(#cellD)" opacity="1"/>
<circle cx="489" cy="225.3" r="0.7" fill="url(#cellK)" opacity="0.5"/>
<circle cx="496.6" cy="227.5" r="0.8" fill="url(#cellP)" opacity="0.7"/>
<circle cx="466.3" cy="239" r="3.7" fill="url(#cellP)" opacity="1"/>
<circle cx="485" cy="240.9" r="1.8" fill="url(#cellK)" opacity="0.6"/>
<circle cx="484.5" cy="242.5" r="0.9" fill="url(#cellD)" opacity="0.8"/>
<circle cx="453" cy="245.2" r="1.6" fill="url(#cellK)" opacity="0.6"/>
<circle cx="457" cy="245.6" r="1.2" fill="url(#cellK)" opacity="0.5"/>
</g>
<rect x="435.6" y="241.6" width="3.2" height="1.4" fill="#8d9092"/>
<rect x="502" y="241.2" width="3.2" height="1.4" fill="#8d9092"/>
<text x="414.3" y="255.1" font-size="7.6" stroke="#222" stroke-width="0.14" text-anchor="middle" fill="#222" textLength="21.5" lengthAdjust="spacingAndGlyphs">sh NC</text>
<text x="478" y="255.1" font-size="7.6" stroke="#222" stroke-width="0.14" text-anchor="middle" fill="#222" textLength="60.5" lengthAdjust="spacingAndGlyphs">PCED1B-AS1-sh1</text>
<text x="4.7" y="276.7" font-size="11" stroke="#000" stroke-width="0.45" font-weight="bold" fill="#000">F</text>
<text x="4.3" y="286.1" font-size="5.6" stroke="#222" stroke-width="0.14" fill="#222" textLength="31.2" lengthAdjust="spacingAndGlyphs">PCED1B-AS1</text>
<text x="4.3" y="296.8" font-size="5.6" stroke="#222" stroke-width="0.14" fill="#222" textLength="38.1" lengthAdjust="spacingAndGlyphs">GATA1 ChIPseq</text>
<text x="4.3" y="307.2" font-size="5.6" stroke="#222" stroke-width="0.14" fill="#222" textLength="37.7" lengthAdjust="spacingAndGlyphs">Erythroblast, EBs</text>
<text x="60.8" y="284.1" font-size="5.6" stroke="#222" stroke-width="0.14" fill="#222" textLength="10.6" lengthAdjust="spacingAndGlyphs">10kb</text>
<text x="207.7" y="284.1" font-size="5.6" stroke="#222" stroke-width="0.14" fill="#222" textLength="12" lengthAdjust="spacingAndGlyphs">hg19</text>
<line x1="74.8" y1="282" x2="206.4" y2="282" stroke="#8a8a8a" stroke-width="1.4"/>
<line x1="74.6" y1="280.3" x2="74.6" y2="283.7" stroke="#222" stroke-width="1.2"/>
<line x1="206.5" y1="280.3" x2="206.5" y2="283.7" stroke="#222" stroke-width="1.2"/>
<line x1="50.4" y1="287.3" x2="202.4" y2="287.3" stroke="#555" stroke-width="0.9" stroke-dasharray="0.9 0.83"/>
<rect x="86.1" y="285.9" width="54.5" height="2.9" fill="#f3b300"/>
<rect x="182.9" y="286.1" width="3.8" height="2.4" fill="#f3b300"/>
<line x1="56" y1="298.7" x2="56" y2="292.2" stroke="#1f5f9f" stroke-width="1.8"/>
<path d="M53.5 293 L56 289.9 L58.5 293 Z" fill="#1f5f9f"/>
<rect x="53.3" y="285.4" width="5.4" height="2.9" rx="1" fill="#fff" stroke="#3a3a3a" stroke-width="1.4"/>
<rect x="46.9" y="299.0" width="16.5" height="8.2" rx="1" fill="#fff" stroke="#3a3a3a" stroke-width="1.1"/>
<text x="55.15" y="305.1" font-size="5.6" stroke="#3a3a3a" stroke-width="0.14" text-anchor="middle" fill="#3a3a3a" textLength="13.2" lengthAdjust="spacingAndGlyphs">Rank1</text>
<line x1="74.1" y1="298.7" x2="74.1" y2="292.2" stroke="#1f5f9f" stroke-width="1.8"/>
<path d="M71.6 293 L74.1 289.9 L76.6 293 Z" fill="#1f5f9f"/>
<rect x="71.4" y="285.4" width="5.4" height="2.9" rx="1" fill="#fff" stroke="#3a3a3a" stroke-width="1.4"/>
<rect x="65.2" y="299.0" width="15.9" height="8.2" rx="1" fill="#fff" stroke="#3a3a3a" stroke-width="1.1"/>
<text x="73.15" y="305.1" font-size="5.6" stroke="#3a3a3a" stroke-width="0.14" text-anchor="middle" fill="#3a3a3a" textLength="13.2" lengthAdjust="spacingAndGlyphs">Rank2</text>
<line x1="174.9" y1="298.7" x2="174.9" y2="292.2" stroke="#1f5f9f" stroke-width="1.8"/>
<path d="M172.4 293 L174.9 289.9 L177.4 293 Z" fill="#1f5f9f"/>
<rect x="172.2" y="285.4" width="5.4" height="2.9" rx="1" fill="#fff" stroke="#3a3a3a" stroke-width="1.4"/>
<rect x="165.5" y="299.0" width="16.5" height="8.2" rx="1" fill="#fff" stroke="#3a3a3a" stroke-width="1.1"/>
<text x="173.75" y="305.1" font-size="5.6" stroke="#3a3a3a" stroke-width="0.14" text-anchor="middle" fill="#3a3a3a" textLength="13.2" lengthAdjust="spacingAndGlyphs">Rank3</text>
<line x1="195" y1="298.7" x2="195" y2="292.2" stroke="#1f5f9f" stroke-width="1.8"/>
<path d="M192.5 293 L195 289.9 L197.5 293 Z" fill="#1f5f9f"/>
<rect x="192.3" y="285.4" width="5.4" height="2.9" rx="1" fill="#fff" stroke="#3a3a3a" stroke-width="1.4"/>
<rect x="193" y="286" width="1.9" height="1.8" fill="#f3b300"/>
<rect x="186.9" y="299.0" width="16.4" height="8.2" rx="1" fill="#fff" stroke="#3a3a3a" stroke-width="1.1"/>
<text x="195.1" y="305.1" font-size="5.6" stroke="#3a3a3a" stroke-width="0.14" text-anchor="middle" fill="#3a3a3a" textLength="13.2" lengthAdjust="spacingAndGlyphs">Rank4</text>
<text x="5" y="324.9" font-size="10.4" stroke="#000" stroke-width="0.45" font-weight="bold" fill="#000">G</text>
<line x1="34.3" y1="318.4" x2="34.3" y2="386.4" stroke="#333" stroke-width="1"/>
<line x1="34.3" y1="391" x2="34.3" y2="420.3" stroke="#333" stroke-width="1"/>
<line x1="31.3" y1="318.9" x2="34.3" y2="318.9" stroke="#333" stroke-width="0.9"/>
<text x="28.8" y="321.6" font-size="7.7" stroke="#2a2a2a" stroke-width="0.14" text-anchor="end" fill="#2a2a2a">40</text>
<line x1="31.3" y1="341.4" x2="34.3" y2="341.4" stroke="#333" stroke-width="0.9"/>
<text x="28.8" y="344.1" font-size="7.7" stroke="#2a2a2a" stroke-width="0.14" text-anchor="end" fill="#2a2a2a">30</text>
<line x1="31.3" y1="363.9" x2="34.3" y2="363.9" stroke="#333" stroke-width="0.9"/>
<text x="28.8" y="366.6" font-size="7.7" stroke="#2a2a2a" stroke-width="0.14" text-anchor="end" fill="#2a2a2a">20</text>
<line x1="31.3" y1="386.4" x2="34.3" y2="386.4" stroke="#333" stroke-width="0.9"/>
<text x="28.8" y="389.1" font-size="7.7" stroke="#2a2a2a" stroke-width="0.14" text-anchor="end" fill="#2a2a2a">10</text>
<line x1="31.3" y1="391.6" x2="34.3" y2="391.6" stroke="#333" stroke-width="0.9"/>
<text x="28.8" y="394.3" font-size="7.7" stroke="#2a2a2a" stroke-width="0.14" text-anchor="end" fill="#2a2a2a">6</text>
<line x1="31.3" y1="401" x2="34.3" y2="401" stroke="#333" stroke-width="0.9"/>
<text x="28.8" y="403.7" font-size="7.7" stroke="#2a2a2a" stroke-width="0.14" text-anchor="end" fill="#2a2a2a">4</text>
<line x1="31.3" y1="410.4" x2="34.3" y2="410.4" stroke="#333" stroke-width="0.9"/>
<text x="28.8" y="413.1" font-size="7.7" stroke="#2a2a2a" stroke-width="0.14" text-anchor="end" fill="#2a2a2a">2</text>
<line x1="31.3" y1="419.8" x2="34.3" y2="419.8" stroke="#333" stroke-width="0.9"/>
<text x="28.8" y="422.5" font-size="7.7" stroke="#2a2a2a" stroke-width="0.14" text-anchor="end" fill="#2a2a2a">0</text>
<line x1="34.3" y1="419.8" x2="186" y2="419.8" stroke="#333" stroke-width="1"/>
<text x="15.5" y="368.9" font-size="7.4" text-anchor="middle" fill="#2a2a2a" textLength="19.8" lengthAdjust="spacingAndGlyphs" transform="rotate(-90 15.5 368.9)" stroke="#2a2a2a" stroke-width="0.2">%input</text>
<line x1="39.6" y1="413.22" x2="39.6" y2="411.34" stroke="#333" stroke-width="0.9"/>
<line x1="38.3" y1="411.34" x2="40.9" y2="411.34" stroke="#333" stroke-width="0.9"/>
<rect x="36.9" y="413.22" width="5.4" height="6.58" fill="#c8203a"/>
<line x1="47.92" y1="408.52" x2="47.92" y2="406.41" stroke="#333" stroke-width="0.9"/>
<line x1="46.62" y1="406.41" x2="49.22" y2="406.41" stroke="#333" stroke-width="0.9"/>
<rect x="45.22" y="408.52" width="5.4" height="11.28" fill="#15558c"/>
<line x1="56.24" y1="412.99" x2="56.24" y2="411.34" stroke="#333" stroke-width="0.9"/>
<line x1="54.94" y1="411.34" x2="57.54" y2="411.34" stroke="#333" stroke-width="0.9"/>
<rect x="53.54" y="412.99" width="5.4" height="6.81" fill="#3cb44a"/>
<line x1="64.56" y1="394.42" x2="64.56" y2="393.01" stroke="#333" stroke-width="0.9"/>
<line x1="63.26" y1="393.01" x2="65.86" y2="393.01" stroke="#333" stroke-width="0.9"/>
<rect x="61.86" y="394.42" width="5.4" height="25.38" fill="#5b2474"/>
<line x1="51.8" y1="419.8" x2="51.8" y2="422" stroke="#333" stroke-width="0.8"/>
<text x="52" y="431.3" font-size="7" stroke="#2a2a2a" stroke-width="0.14" text-anchor="middle" fill="#2a2a2a" textLength="20" lengthAdjust="spacingAndGlyphs">Rank1</text>
<line x1="78.05" y1="417.92" x2="78.05" y2="416.98" stroke="#333" stroke-width="0.9"/>
<line x1="76.75" y1="416.98" x2="79.35" y2="416.98" stroke="#333" stroke-width="0.9"/>
<rect x="75.35" y="417.92" width="5.4" height="1.88" fill="#c8203a"/>
<line x1="86.37" y1="356.25" x2="86.37" y2="348.15" stroke="#333" stroke-width="0.9"/>
<line x1="85.07" y1="348.15" x2="87.67" y2="348.15" stroke="#333" stroke-width="0.9"/>
<rect x="83.67" y="356.25" width="5.4" height="63.55" fill="#15558c"/>
<rect x="83.47" y="386" width="5.8" height="4.9" fill="#fff"/>
<line x1="94.69" y1="416.51" x2="94.69" y2="412.28" stroke="#333" stroke-width="0.9"/>
<line x1="93.39" y1="412.28" x2="95.99" y2="412.28" stroke="#333" stroke-width="0.9"/>
<rect x="91.99" y="416.51" width="5.4" height="3.29" fill="#3cb44a"/>
<line x1="103.01" y1="364.12" x2="103.01" y2="360.07" stroke="#333" stroke-width="0.9"/>
<line x1="101.71" y1="360.07" x2="104.31" y2="360.07" stroke="#333" stroke-width="0.9"/>
<rect x="100.31" y="364.12" width="5.4" height="55.68" fill="#5b2474"/>
<rect x="100.11" y="386" width="5.8" height="4.9" fill="#fff"/>
<line x1="90.25" y1="419.8" x2="90.25" y2="422" stroke="#333" stroke-width="0.8"/>
<text x="90.45" y="431.3" font-size="7" stroke="#2a2a2a" stroke-width="0.14" text-anchor="middle" fill="#2a2a2a" textLength="20" lengthAdjust="spacingAndGlyphs">Rank2</text>
<rect x="113.8" y="419.24" width="5.4" height="0.56" fill="#c8203a"/>
<line x1="124.82" y1="335.32" x2="124.82" y2="321.6" stroke="#333" stroke-width="0.9"/>
<line x1="123.52" y1="321.6" x2="126.12" y2="321.6" stroke="#333" stroke-width="0.9"/>
<rect x="122.12" y="335.32" width="5.4" height="84.48" fill="#15558c"/>
<rect x="121.92" y="386" width="5.8" height="4.9" fill="#fff"/>
<rect x="130.44" y="419.33" width="5.4" height="0.47" fill="#3cb44a"/>
<line x1="141.46" y1="347.7" x2="141.46" y2="334.88" stroke="#333" stroke-width="0.9"/>
<line x1="140.16" y1="334.88" x2="142.76" y2="334.88" stroke="#333" stroke-width="0.9"/>
<rect x="138.76" y="347.7" width="5.4" height="72.1" fill="#5b2474"/>
<rect x="138.56" y="386" width="5.8" height="4.9" fill="#fff"/>
<line x1="128.7" y1="419.8" x2="128.7" y2="422" stroke="#333" stroke-width="0.8"/>
<text x="128.9" y="431.3" font-size="7" stroke="#2a2a2a" stroke-width="0.14" text-anchor="middle" fill="#2a2a2a" textLength="20" lengthAdjust="spacingAndGlyphs">Rank3</text>
<rect x="152.25" y="419.24" width="5.4" height="0.56" fill="#c8203a"/>
<line x1="163.27" y1="378.75" x2="163.27" y2="374.7" stroke="#333" stroke-width="0.9"/>
<line x1="161.97" y1="374.7" x2="164.57" y2="374.7" stroke="#333" stroke-width="0.9"/>
<rect x="160.57" y="378.75" width="5.4" height="41.05" fill="#15558c"/>
<rect x="160.37" y="386" width="5.8" height="4.9" fill="#fff"/>
<line x1="171.59" y1="416.04" x2="171.59" y2="410.4" stroke="#333" stroke-width="0.9"/>
<line x1="170.29" y1="410.4" x2="172.89" y2="410.4" stroke="#333" stroke-width="0.9"/>
<rect x="168.89" y="416.04" width="5.4" height="3.76" fill="#3cb44a"/>
<line x1="179.91" y1="358.05" x2="179.91" y2="352.88" stroke="#333" stroke-width="0.9"/>
<line x1="178.61" y1="352.88" x2="181.21" y2="352.88" stroke="#333" stroke-width="0.9"/>
<rect x="177.21" y="358.05" width="5.4" height="61.75" fill="#5b2474"/>
<rect x="177.01" y="386" width="5.8" height="4.9" fill="#fff"/>
<line x1="167.15" y1="419.8" x2="167.15" y2="422" stroke="#333" stroke-width="0.8"/>
<text x="167.35" y="431.3" font-size="7" stroke="#2a2a2a" stroke-width="0.14" text-anchor="middle" fill="#2a2a2a" textLength="20" lengthAdjust="spacingAndGlyphs">Rank4</text>
<line x1="39.3" y1="402.6" x2="48.6" y2="402.6" stroke="#444" stroke-width="0.9"/>
<line x1="39.3" y1="401.3" x2="39.3" y2="403.9" stroke="#444" stroke-width="0.9"/>
<line x1="48.6" y1="401.3" x2="48.6" y2="403.9" stroke="#444" stroke-width="0.9"/>
<circle cx="42.45" cy="398.2" r="0.95" fill="#222"/>
<circle cx="45.45" cy="398.2" r="0.95" fill="#222"/>
<line x1="55.9" y1="388.2" x2="64.8" y2="388.2" stroke="#444" stroke-width="0.9"/>
<line x1="55.9" y1="386.9" x2="55.9" y2="389.5" stroke="#444" stroke-width="0.9"/>
<line x1="64.8" y1="386.9" x2="64.8" y2="389.5" stroke="#444" stroke-width="0.9"/>
<circle cx="57.35" cy="383.9" r="0.95" fill="#222"/>
<circle cx="60.35" cy="383.9" r="0.95" fill="#222"/>
<circle cx="63.35" cy="383.9" r="0.95" fill="#222"/>
<line x1="47.7" y1="370.9" x2="64.8" y2="370.9" stroke="#444" stroke-width="0.9"/>
<line x1="47.7" y1="369.6" x2="47.7" y2="372.2" stroke="#444" stroke-width="0.9"/>
<line x1="64.8" y1="369.6" x2="64.8" y2="372.2" stroke="#444" stroke-width="0.9"/>
<circle cx="53.25" cy="366.6" r="0.95" fill="#222"/>
<circle cx="56.25" cy="366.6" r="0.95" fill="#222"/>
<circle cx="59.25" cy="366.6" r="0.95" fill="#222"/>
<line x1="163.7" y1="348.5" x2="180.7" y2="348.5" stroke="#444" stroke-width="0.9"/>
<line x1="163.7" y1="347.2" x2="163.7" y2="349.8" stroke="#444" stroke-width="0.9"/>
<line x1="180.7" y1="347.2" x2="180.7" y2="349.8" stroke="#444" stroke-width="0.9"/>
<circle cx="169.2" cy="343.9" r="0.95" fill="#222"/>
<circle cx="172.2" cy="343.9" r="0.95" fill="#222"/>
<circle cx="175.2" cy="343.9" r="0.95" fill="#222"/>
<rect x="189.1" y="351" width="5" height="5" fill="#15558c"/>
<text x="197" y="356" font-size="7.1" stroke="#2a2a2a" stroke-width="0.14" fill="#2a2a2a" textLength="18.2" lengthAdjust="spacingAndGlyphs">D7-IP</text>
<rect x="189.1" y="360.6" width="5" height="5" fill="#c8203a"/>
<text x="197" y="365.6" font-size="7.1" stroke="#2a2a2a" stroke-width="0.14" fill="#2a2a2a" textLength="22.9" lengthAdjust="spacingAndGlyphs">D7-IgG</text>
<rect x="189.1" y="370.6" width="5" height="5" fill="#3cb44a"/>
<text x="197" y="375.6" font-size="7.1" stroke="#2a2a2a" stroke-width="0.14" fill="#2a2a2a" textLength="26.5" lengthAdjust="spacingAndGlyphs">D10-IgG</text>
<rect x="189.1" y="379.9" width="5" height="5" fill="#5b2474"/>
<text x="197" y="384.9" font-size="7.1" stroke="#2a2a2a" stroke-width="0.14" fill="#2a2a2a" textLength="21.8" lengthAdjust="spacingAndGlyphs">D10-IP</text>
<text x="233.3" y="276.7" font-size="11" stroke="#000" stroke-width="0.45" font-weight="bold" fill="#000">H</text>
<line x1="253.9" y1="300.6" x2="253.9" y2="420.1" stroke="#333" stroke-width="1"/>
<line x1="250.9" y1="419.6" x2="253.9" y2="419.6" stroke="#333" stroke-width="0.9"/>
<text x="249.2" y="421.9" font-size="6.6" stroke="#2a2a2a" stroke-width="0.14" text-anchor="end" fill="#2a2a2a" textLength="3.4" lengthAdjust="spacingAndGlyphs">0</text>
<line x1="250.9" y1="390.02" x2="253.9" y2="390.02" stroke="#333" stroke-width="0.9"/>
<text x="249.2" y="392.32" font-size="6.6" stroke="#2a2a2a" stroke-width="0.14" text-anchor="end" fill="#2a2a2a" textLength="3.4" lengthAdjust="spacingAndGlyphs">2</text>
<line x1="250.9" y1="360.44" x2="253.9" y2="360.44" stroke="#333" stroke-width="0.9"/>
<text x="249.2" y="362.74" font-size="6.6" stroke="#2a2a2a" stroke-width="0.14" text-anchor="end" fill="#2a2a2a" textLength="3.4" lengthAdjust="spacingAndGlyphs">4</text>
<line x1="250.9" y1="330.86" x2="253.9" y2="330.86" stroke="#333" stroke-width="0.9"/>
<text x="249.2" y="333.16" font-size="6.6" stroke="#2a2a2a" stroke-width="0.14" text-anchor="end" fill="#2a2a2a" textLength="3.4" lengthAdjust="spacingAndGlyphs">6</text>
<line x1="250.9" y1="301.28" x2="253.9" y2="301.28" stroke="#333" stroke-width="0.9"/>
<text x="249.2" y="303.58" font-size="6.6" stroke="#2a2a2a" stroke-width="0.14" text-anchor="end" fill="#2a2a2a" textLength="3.4" lengthAdjust="spacingAndGlyphs">8</text>
<line x1="253.9" y1="419.6" x2="372.7" y2="419.6" stroke="#333" stroke-width="1"/>
<text x="239.6" y="360.4" font-size="7.3" text-anchor="middle" fill="#2a2a2a" textLength="90.2" lengthAdjust="spacingAndGlyphs" transform="rotate(-90 239.6 360.4)" stroke="#2a2a2a" stroke-width="0.2">Relative luciferase/RLUC activity</text>
<line x1="272.3" y1="356.15" x2="272.3" y2="353.1" stroke="#333" stroke-width="1.1"/>
<line x1="267.3" y1="353.1" x2="277.3" y2="353.1" stroke="#333" stroke-width="1.1"/>
<rect x="263.5" y="356.15" width="17.6" height="63.45" fill="#c8203a"/>
<line x1="272.3" y1="419.6" x2="272.3" y2="422" stroke="#333" stroke-width="0.8"/>
<line x1="299.6" y1="337.66" x2="299.6" y2="326.5" stroke="#333" stroke-width="1.1"/>
<line x1="295" y1="326.5" x2="304.2" y2="326.5" stroke="#333" stroke-width="1.1"/>
<rect x="290.8" y="337.66" width="17.6" height="81.94" fill="#c8203a"/>
<line x1="299.6" y1="419.6" x2="299.6" y2="422" stroke="#333" stroke-width="0.8"/>
<line x1="327.1" y1="396.38" x2="327.1" y2="395" stroke="#333" stroke-width="1.1"/>
<line x1="322.25" y1="395" x2="331.95" y2="395" stroke="#333" stroke-width="1.1"/>
<rect x="318.3" y="396.38" width="17.6" height="23.22" fill="#c8203a"/>
<line x1="327.1" y1="419.6" x2="327.1" y2="422" stroke="#333" stroke-width="0.8"/>
<line x1="354.5" y1="357.78" x2="354.5" y2="352.4" stroke="#333" stroke-width="1.1"/>
<line x1="349.9" y1="352.4" x2="359.1" y2="352.4" stroke="#333" stroke-width="1.1"/>
<rect x="345.7" y="357.78" width="17.6" height="61.82" fill="#c8203a"/>
<line x1="354.5" y1="419.6" x2="354.5" y2="422" stroke="#333" stroke-width="0.8"/>
<line x1="276.6" y1="323.5" x2="305.2" y2="323.5" stroke="#444" stroke-width="0.9"/>
<line x1="276.6" y1="322.1" x2="276.6" y2="324.9" stroke="#444" stroke-width="0.9"/>
<line x1="305.2" y1="322.1" x2="305.2" y2="324.9" stroke="#444" stroke-width="0.9"/>
<circle cx="290.9" cy="319.2" r="0.95" fill="#222"/>
<line x1="304.4" y1="317.6" x2="331.6" y2="317.6" stroke="#444" stroke-width="0.9"/>
<line x1="304.4" y1="316.2" x2="304.4" y2="319" stroke="#444" stroke-width="0.9"/>
<line x1="331.6" y1="316.2" x2="331.6" y2="319" stroke="#444" stroke-width="0.9"/>
<circle cx="315" cy="313.8" r="0.95" fill="#222"/>
<circle cx="318" cy="313.8" r="0.95" fill="#222"/>
<circle cx="321" cy="313.8" r="0.95" fill="#222"/>
<line x1="304.4" y1="307.1" x2="358.5" y2="307.1" stroke="#444" stroke-width="0.9"/>
<line x1="304.4" y1="305.7" x2="304.4" y2="308.5" stroke="#444" stroke-width="0.9"/>
<line x1="358.5" y1="305.7" x2="358.5" y2="308.5" stroke="#444" stroke-width="0.9"/>
<circle cx="331.45" cy="302.8" r="0.95" fill="#222"/>
<text x="0" y="0" font-size="6.5" fill="#2a2a2a" stroke="#2a2a2a" stroke-width="0.14" transform="translate(248.2 433.8) rotate(-15)" textLength="26" lengthAdjust="spacingAndGlyphs">PGL 4.10</text>
<text x="0" y="0" font-size="6.5" fill="#2a2a2a" stroke="#2a2a2a" stroke-width="0.14" transform="translate(272 433.6) rotate(-15)" textLength="26" lengthAdjust="spacingAndGlyphs">PGL 4.10</text>
<text x="0" y="0" font-size="6.4" fill="#2a2a2a" stroke="#2a2a2a" stroke-width="0.14" transform="translate(260.9 442.8) rotate(-15)" textLength="43.2" lengthAdjust="spacingAndGlyphs">PCED1B-AS1-P</text>
<text x="0" y="0" font-size="6.5" fill="#2a2a2a" stroke="#2a2a2a" stroke-width="0.14" transform="translate(304.6 434.5) rotate(-15)" textLength="26" lengthAdjust="spacingAndGlyphs">PGL 4.10</text>
<text x="0" y="0" font-size="6.4" fill="#2a2a2a" stroke="#2a2a2a" stroke-width="0.14" transform="translate(291.6 444.5) rotate(-15)" textLength="53.5" lengthAdjust="spacingAndGlyphs">PCED1B-AS1-P <tspan font-style="italic">del</tspan></text>
<text x="0" y="0" font-size="6.5" fill="#2a2a2a" stroke="#2a2a2a" stroke-width="0.14" transform="translate(347.3 434) rotate(-15)" textLength="26" lengthAdjust="spacingAndGlyphs">PGL 4.10</text>
<text x="0" y="0" font-size="6.4" fill="#2a2a2a" stroke="#2a2a2a" stroke-width="0.14" transform="translate(334.6 444.3) rotate(-15)" textLength="55" lengthAdjust="spacingAndGlyphs">PCED1B-AS1-P <tspan font-style="italic">mut</tspan></text>
<text x="390.2" y="276.4" font-size="11.2" stroke="#000" stroke-width="0.45" font-weight="bold" fill="#000">I</text>
<defs>
<linearGradient id="gelbg" x1="0" y1="0" x2="1" y2="0">
 <stop offset="0" stop-color="#8a7040"/><stop offset="0.03" stop-color="#c2ac78"/><stop offset="0.07" stop-color="#d2c094"/>
 <stop offset="0.3" stop-color="#ddcfae"/><stop offset="0.6" stop-color="#ddd0b0"/><stop offset="0.92" stop-color="#d4c29a"/><stop offset="1" stop-color="#bfa876"/>
</linearGradient>
<linearGradient id="mkl" x1="0" y1="0" x2="0" y2="1">
 <stop offset="0" stop-color="#3a2d1c"/><stop offset="0.3" stop-color="#2c2216"/><stop offset="0.55" stop-color="#3a2e1e"/><stop offset="0.8" stop-color="#50402a"/><stop offset="1" stop-color="#54442c"/>
</linearGradient>
<linearGradient id="mkh" x1="0" y1="0" x2="1" y2="0">
 <stop offset="0" stop-color="#000" stop-opacity="0"/><stop offset="0.15" stop-color="#000" stop-opacity="0.9"/><stop offset="0.85" stop-color="#000" stop-opacity="0.9"/><stop offset="1" stop-color="#000" stop-opacity="0"/>
</linearGradient>
<linearGradient id="sns" x1="0" y1="0" x2="0" y2="1">
 <stop offset="0" stop-color="#8a5c28"/><stop offset="0.2" stop-color="#976a32"/><stop offset="0.4" stop-color="#a2763a"/><stop offset="0.6" stop-color="#b28c52"/><stop offset="0.8" stop-color="#bc9a62"/><stop offset="1" stop-color="#b89460"/>
</linearGradient>
<linearGradient id="asl" x1="0" y1="0" x2="0" y2="1">
 <stop offset="0" stop-color="#dccba6"/><stop offset="1" stop-color="#ddd0b2"/>
</linearGradient>
<filter id="gb" x="-10%" y="-50%" width="120%" height="200%"><feGaussianBlur stdDeviation="0.55"/></filter>
<filter id="gb2" x="-10%" y="-10%" width="120%" height="120%"><feGaussianBlur stdDeviation="0.9"/></filter>
<clipPath id="gclip"><rect x="416.8" y="298.4" width="60" height="123"/></clipPath>
</defs>
<rect x="416.8" y="298.4" width="60" height="123" fill="#d3c49f"/>
<g clip-path="url(#gclip)">
<g filter="url(#gb2)">
<rect x="416.8" y="298" width="1.5" height="124" fill="#7a6236"/>
<rect x="418.3" y="298" width="2.4" height="124" fill="#c4b084"/>
<rect x="437.2" y="298" width="4" height="124" fill="#e0d6bf"/>
<rect x="440.8" y="298" width="13.4" height="124" fill="#dccfb2"/>
<rect x="454" y="298" width="3.6" height="124" fill="#e0d5bb"/>
<rect x="473.4" y="298" width="3.6" height="124" fill="#ccb78c"/>
<rect x="420.2" y="298" width="17.4" height="124" fill="#5a4a30" opacity="0.7"/>
<rect x="421.2" y="298" width="15.4" height="124" fill="url(#mkl)"/>
<rect x="457.4" y="298" width="16.2" height="124" fill="url(#sns)"/>
<rect x="421.2" y="298" width="15.4" height="6" fill="#6a5236" opacity="0.5"/>
</g>
<g filter="url(#gb2)">
<rect x="420.4" y="308" width="17.0" height="3.2" rx="2" fill="#4a1e10" opacity="0.7"/>
<rect x="421.0" y="308.8" width="15.8" height="1.6" rx="1.6" fill="#8a3a22"/>
<rect x="420.4" y="316.2" width="17.0" height="3.8" rx="2" fill="#4a1e10" opacity="0.7"/>
<rect x="421.0" y="317" width="15.8" height="2.2" rx="1.6" fill="#9a4226"/>
<rect x="420.4" y="332.4" width="17.0" height="5.8" rx="2" fill="#4a1e10" opacity="0.7"/>
<rect x="421.0" y="333.2" width="15.8" height="4.2" rx="1.6" fill="#b04c30"/>
<rect x="420.4" y="345.8" width="17.0" height="4.8" rx="2" fill="#4a1e10" opacity="0.7"/>
<rect x="421.0" y="346.6" width="15.8" height="3.2" rx="1.6" fill="#a84a30"/>
<rect x="420.4" y="358.9" width="17.0" height="4.8" rx="2" fill="#4a1e10" opacity="0.7"/>
<rect x="421.0" y="359.7" width="15.8" height="3.2" rx="1.6" fill="#a84a30"/>
<rect x="420.4" y="371.6" width="17.0" height="5.2" rx="2" fill="#4a1e10" opacity="0.7"/>
<rect x="421.0" y="372.4" width="15.8" height="3.6" rx="1.6" fill="#a64830"/>
<rect x="420.4" y="387.7" width="17.0" height="6.2" rx="2" fill="#4a1e10" opacity="0.7"/>
<rect x="421.0" y="388.5" width="15.8" height="4.6" rx="1.6" fill="#c05838"/>
<rect x="420.4" y="406.6" width="17.0" height="5.2" rx="2" fill="#4a1e10" opacity="0.7"/>
<rect x="421.0" y="407.4" width="15.8" height="3.6" rx="1.6" fill="#9e4a30"/>
</g>
<g filter="url(#gb)">
<rect x="441.6" y="309.55" width="12.0" height="0.9" fill="#c4a470" opacity="0.6"/>
<rect x="441.6" y="322.15" width="12.0" height="0.9" fill="#c8a878" opacity="0.5"/>
<rect x="441.6" y="356.25" width="12.0" height="1.3" fill="#b08444" opacity="0.85"/>
<rect x="441.6" y="364.05" width="12.0" height="1.7" fill="#a87a3c" opacity="0.85"/>
<rect x="441.6" y="344.5" width="12.0" height="1" fill="#c8b088" opacity="0.4"/>
<rect x="457.8" y="298.2" width="15.4" height="2.2" fill="#6a4420" opacity="0.8"/>
<rect x="457.8" y="303.1" width="15.4" height="1" fill="#7a5028" opacity="0.5"/>
<rect x="457.8" y="310.25" width="15.4" height="1.1" fill="#5a3818" opacity="0.7"/>
<rect x="457.8" y="313" width="15.4" height="1" fill="#5a3818" opacity="0.6"/>
<rect x="457.8" y="315.3" width="15.4" height="1" fill="#5a3818" opacity="0.7"/>
<rect x="457.8" y="317.7" width="15.4" height="1" fill="#6a4420" opacity="0.5"/>
<rect x="457.8" y="321.55" width="15.4" height="0.9" fill="#6a4420" opacity="0.45"/>
<rect x="457.8" y="324.45" width="15.4" height="1.1" fill="#5a3818" opacity="0.7"/>
<rect x="457.8" y="327.1" width="15.4" height="1" fill="#5a3818" opacity="0.6"/>
<rect x="457.8" y="329.45" width="15.4" height="1.1" fill="#5a3818" opacity="0.7"/>
<rect x="457.8" y="332.1" width="15.4" height="1" fill="#6a4420" opacity="0.5"/>
<rect x="457.8" y="334.8" width="15.4" height="1.6" fill="#5a3818" opacity="0.7"/>
<rect x="457.8" y="337.3" width="15.4" height="1" fill="#6a4420" opacity="0.5"/>
<rect x="457.8" y="341.8" width="15.4" height="1" fill="#7a5028" opacity="0.45"/>
<rect x="457.8" y="346.95" width="15.4" height="0.9" fill="#8a6030" opacity="0.35"/>
<rect x="457.8" y="354.8" width="15.4" height="1.8" fill="#4a2c10" opacity="0.85"/>
<rect x="457.8" y="361.6" width="15.4" height="3.4" fill="#2e1c0c" opacity="0.9"/>
<rect x="457.8" y="365.6" width="15.4" height="1.6" fill="#5a3a18" opacity="0.5"/>
<rect x="457.8" y="381.6" width="15.4" height="2.8" fill="#9a7038" opacity="0.4"/>
<rect x="457.8" y="391.9" width="15.4" height="2.2" fill="#a07840" opacity="0.3"/>
<rect x="457.8" y="398.9" width="15.4" height="2.2" fill="#a07840" opacity="0.28"/>
<rect x="457.8" y="419.6" width="15.4" height="1.6" fill="#2a2010" opacity="0.9"/>
<rect x="416.6" y="341.2" width="2.6" height="1.8" fill="#1a1a1a"/>
<rect x="416.8" y="298" width="60" height="1.6" fill="#7a5a30" opacity="0.5"/>
</g>
</g>
<text x="413.2" y="312.2" font-size="6.5" stroke="#222" stroke-width="0.14" text-anchor="end" fill="#222" textLength="23.2" lengthAdjust="spacingAndGlyphs">150 KDa</text>
<text x="413.2" y="321.6" font-size="6.5" stroke="#222" stroke-width="0.14" text-anchor="end" fill="#222" textLength="23.2" lengthAdjust="spacingAndGlyphs">100 KDa</text>
<text x="413.2" y="338.5" font-size="6.5" stroke="#222" stroke-width="0.14" text-anchor="end" fill="#222" textLength="19.5" lengthAdjust="spacingAndGlyphs">70 KDa</text>
<text x="413.2" y="350.3" font-size="6.5" stroke="#222" stroke-width="0.14" text-anchor="end" fill="#222" textLength="19.5" lengthAdjust="spacingAndGlyphs">50 KDa</text>
<text x="413.2" y="364.7" font-size="6.5" stroke="#222" stroke-width="0.14" text-anchor="end" fill="#222" textLength="19.5" lengthAdjust="spacingAndGlyphs">40 KDa</text>
<text x="413.2" y="377.3" font-size="6.5" stroke="#222" stroke-width="0.14" text-anchor="end" fill="#222" textLength="19.5" lengthAdjust="spacingAndGlyphs">35 KDa</text>
<text x="413.2" y="393.4" font-size="6.5" stroke="#222" stroke-width="0.14" text-anchor="end" fill="#222" textLength="19.5" lengthAdjust="spacingAndGlyphs">25 KDa</text>
<text x="413.2" y="411.2" font-size="6.5" stroke="#222" stroke-width="0.14" text-anchor="end" fill="#222" textLength="23.2" lengthAdjust="spacingAndGlyphs">15 KDa</text>
<text x="0" y="0" font-size="6.8" fill="#222" stroke="#222" stroke-width="0.12" transform="translate(421.6 295.6) rotate(-15) scale(0.851 1)">Marker</text>
<text x="0" y="0" font-size="6.8" fill="#222" stroke="#222" stroke-width="0.12" transform="translate(441 295.8) rotate(-15) scale(0.871 1)">Antisense</text>
<text x="0" y="0" font-size="6.8" fill="#222" stroke="#222" stroke-width="0.12" transform="translate(464.4 295.8) rotate(-15) scale(0.851 1)">Sense</text>
<line x1="472.8" y1="303.5" x2="485.2" y2="303.5" stroke="#333" stroke-width="0.9"/>
<line x1="472.8" y1="347.8" x2="485.2" y2="347.8" stroke="#333" stroke-width="0.9"/>
<polyline points="472.8,313.3 477.5,313.3 479.2,311.3 485.2,311.3" fill="none" stroke="#333" stroke-width="0.9"/>
<polyline points="472.8,315.2 477.5,315.2 479.2,319.1 485.2,319.1" fill="none" stroke="#333" stroke-width="0.9"/>
<polyline points="472.8,356.3 478.2,356.3"  fill="none" stroke="#333" stroke-width="0.9"/>
<polyline points="485.2,353.7 478.8,353.7 478.8,359.9 485.2,359.9" fill="none" stroke="#333" stroke-width="0.9"/>
<text x="488" y="306.3" font-size="6.6" stroke="#222" stroke-width="0.14" fill="#222" textLength="18.5" lengthAdjust="spacingAndGlyphs">PLEC*</text>
<text x="488" y="313.6" font-size="6.6" stroke="#222" stroke-width="0.14" fill="#222" textLength="16" lengthAdjust="spacingAndGlyphs">USP7</text>
<text x="488" y="321.4" font-size="6.6" stroke="#222" stroke-width="0.14" fill="#222" textLength="22" lengthAdjust="spacingAndGlyphs">ACTN3*</text>
<text x="488" y="350.1" font-size="6.6" stroke="#222" stroke-width="0.14" fill="#222" textLength="18.5" lengthAdjust="spacingAndGlyphs">TUBB*</text>
<text x="488" y="356" font-size="6.6" stroke="#222" stroke-width="0.14" fill="#222" textLength="26.5" lengthAdjust="spacingAndGlyphs">POTEKP*</text>
<text x="488" y="361.7" font-size="6.6" stroke="#222" stroke-width="0.14" fill="#222" textLength="18.8" lengthAdjust="spacingAndGlyphs">GATA1</text>
<rect x="0.4" y="0.4" width="518.9" height="450" fill="none" stroke="#161616" stroke-width="1.1"/>
</svg>
</body></html>
